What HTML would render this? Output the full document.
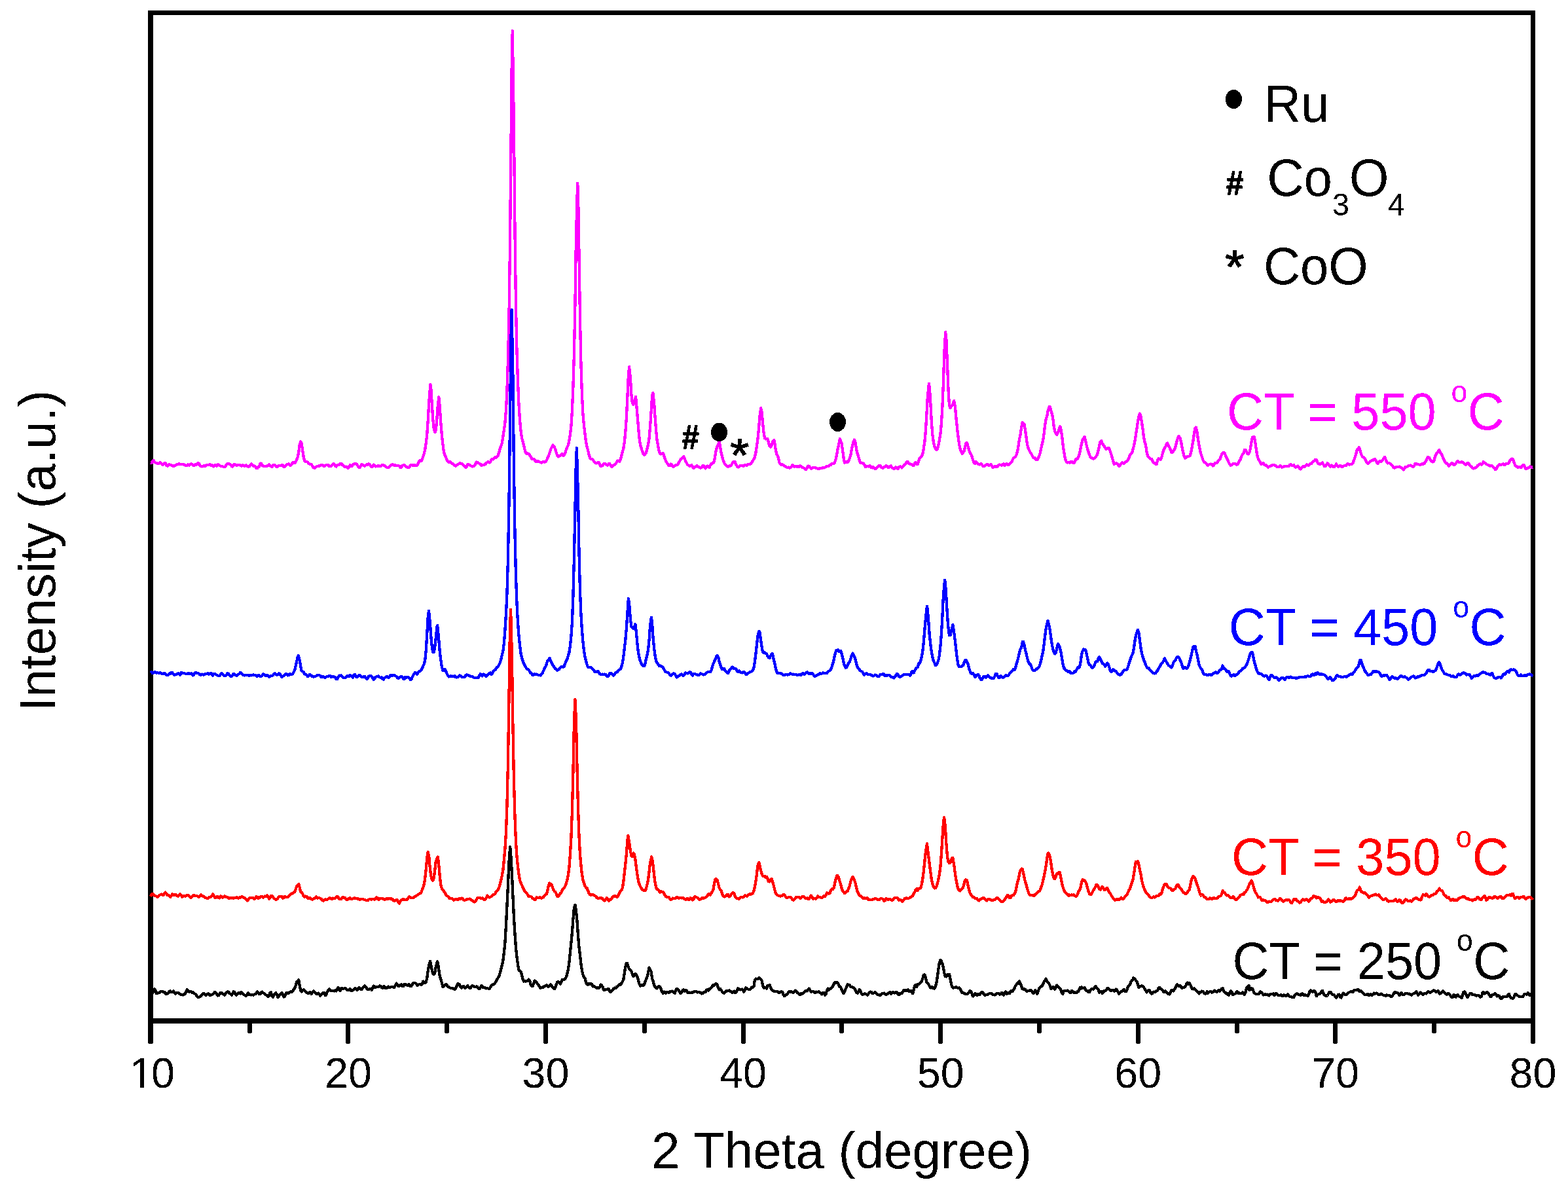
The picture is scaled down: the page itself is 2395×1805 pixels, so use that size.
<!DOCTYPE html>
<html lang="en"><head><meta charset="utf-8"><title></title>
<style>html,body{margin:0;padding:0;background:#fff;overflow:hidden}svg{display:block}text{font-family:"Liberation Sans",sans-serif}</style></head>
<body>
<svg width="2395" height="1805" viewBox="0 0 2395 1805">
<defs><filter id="bin" x="0" y="0" width="2395" height="1805" filterUnits="userSpaceOnUse" color-interpolation-filters="sRGB"><feComponentTransfer><feFuncA type="discrete" tableValues="0 1"/></feComponentTransfer></filter></defs>
<rect width="2395" height="1805" fill="#fff"/>
<g fill="#000" shape-rendering="crispEdges">
<rect x="226" y="16" width="2119" height="7"/>
<rect x="226" y="1555" width="2119" height="8"/>
<rect x="226" y="16" width="8" height="1578" rx="2.2" ry="2.2"/>
<rect x="2338" y="16" width="7" height="1578" rx="2.2" ry="2.2"/>
<rect x="378" y="1558" width="7" height="20" rx="2.2" ry="2.2"/>
<rect x="528" y="1558" width="7" height="36" rx="2.2" ry="2.2"/>
<rect x="679" y="1558" width="7" height="20" rx="2.2" ry="2.2"/>
<rect x="830" y="1558" width="7" height="36" rx="2.2" ry="2.2"/>
<rect x="981" y="1558" width="7" height="20" rx="2.2" ry="2.2"/>
<rect x="1132" y="1558" width="7" height="36" rx="2.2" ry="2.2"/>
<rect x="1282" y="1558" width="7" height="20" rx="2.2" ry="2.2"/>
<rect x="1433" y="1558" width="7" height="36" rx="2.2" ry="2.2"/>
<rect x="1584" y="1558" width="7" height="20" rx="2.2" ry="2.2"/>
<rect x="1735" y="1558" width="7" height="36" rx="2.2" ry="2.2"/>
<rect x="1886" y="1558" width="7" height="20" rx="2.2" ry="2.2"/>
<rect x="2036" y="1558" width="7" height="36" rx="2.2" ry="2.2"/>
<rect x="2187" y="1558" width="7" height="20" rx="2.2" ry="2.2"/>
</g>
<g filter="url(#bin)">
<g font-size="64.6" text-anchor="middle" fill="#000">
<text y="1661" text-anchor="start"><tspan x="198.1">1</tspan><tspan x="231">0</tspan></text>
<text x="531.9" y="1661">20</text>
<text x="833.5" y="1661">30</text>
<text x="1135.1" y="1661">40</text>
<text x="1436.7" y="1661">50</text>
<text x="1738.3" y="1661">60</text>
<text x="2039.9" y="1661">70</text>
<text x="2341.5" y="1661">80</text>
</g>
<text x="1285.6" y="1784" font-size="78.2" text-anchor="middle" fill="#000">2 Theta (degree)</text>
<text transform="translate(84.1,841) rotate(-90)" font-size="77.4" text-anchor="middle" fill="#000">Intensity (a.u.)</text>
</g>
<rect x="200" y="1653.5" width="14.1" height="10" fill="#fff" shape-rendering="crispEdges"/><rect x="220.1" y="1653.5" width="13" height="10" fill="#fff" shape-rendering="crispEdges"/>
<polyline points="230.0,706.5 231.5,706.9 233.0,704.6 234.5,703.2 236.0,705.4 237.5,706.6 239.0,707.0 240.6,708.2 242.1,708.2 243.6,706.6 245.1,706.5 246.6,708.0 248.1,709.8 249.6,709.3 251.1,707.1 252.6,707.4 254.1,710.3 255.6,711.6 257.1,709.8 258.7,709.1 260.2,710.2 261.7,710.1 263.2,711.2 264.7,712.3 266.2,711.4 267.7,710.5 269.2,710.2 270.7,709.0 272.2,708.6 273.7,708.5 275.2,708.7 276.7,708.7 278.3,708.9 279.8,709.2 281.3,709.7 282.8,710.2 284.3,711.1 285.8,711.1 287.3,709.5 288.8,710.6 290.3,709.6 291.8,708.2 293.3,709.1 294.8,710.6 296.4,710.9 297.9,709.4 299.4,709.8 300.9,709.2 302.4,707.2 303.9,707.9 305.4,710.6 306.9,712.1 308.4,712.5 309.9,711.9 311.4,711.3 312.9,711.4 314.4,711.4 316.0,709.8 317.5,709.8 319.0,709.8 320.5,709.2 322.0,710.6 323.5,710.0 325.0,711.1 326.5,712.6 328.0,710.3 329.5,710.2 331.0,711.4 332.5,709.6 334.1,709.6 335.6,711.1 337.1,711.7 338.6,711.9 340.1,712.3 341.6,713.2 343.1,713.1 344.6,711.6 346.1,709.5 347.6,708.1 349.1,707.8 350.6,709.2 352.1,709.1 353.7,711.8 355.2,712.8 356.7,709.9 358.2,708.9 359.7,710.0 361.2,710.9 362.7,709.9 364.2,709.7 365.7,709.8 367.2,710.8 368.7,711.7 370.2,710.3 371.8,710.6 373.3,711.6 374.8,711.4 376.3,710.3 377.8,711.9 379.3,712.6 380.8,712.3 382.3,710.5 383.8,708.4 385.3,709.5 386.8,711.5 388.3,711.5 389.8,712.1 391.4,714.7 392.9,715.1 394.4,713.4 395.9,712.3 397.4,708.2 398.9,707.6 400.4,710.6 401.9,711.4 403.4,712.0 404.9,712.0 406.4,711.7 407.9,711.9 409.5,710.7 411.0,709.2 412.5,710.6 414.0,712.4 415.5,712.9 417.0,710.6 418.5,710.1 420.0,710.3 421.5,711.5 423.0,713.3 424.5,712.2 426.0,710.7 427.5,711.2 429.1,711.3 430.6,709.8 432.1,710.8 433.6,713.1 435.1,712.6 436.6,710.7 438.1,709.5 439.6,708.8 441.1,708.4 442.6,710.4 444.1,710.5 445.6,708.7 447.2,706.4 448.7,706.3 450.2,707.1 451.7,705.3 453.2,701.9 454.7,698.2 456.2,690.8 457.7,679.0 459.2,674.5 460.7,677.2 462.2,687.7 463.7,697.9 465.2,703.5 466.8,705.1 468.3,704.7 469.8,705.6 471.3,707.6 472.8,708.6 474.3,709.1 475.8,709.5 477.3,711.9 478.8,714.3 480.3,714.9 481.8,714.1 483.3,712.5 484.9,712.1 486.4,711.5 487.9,711.8 489.4,710.7 490.9,709.8 492.4,710.3 493.9,711.8 495.4,712.0 496.9,711.0 498.4,709.8 499.9,709.9 501.4,710.2 502.9,712.3 504.5,712.1 506.0,711.4 507.5,710.2 509.0,708.3 510.5,708.6 512.0,711.3 513.5,712.6 515.0,710.4 516.5,709.7 518.0,709.7 519.5,708.0 521.0,707.8 522.6,709.7 524.1,710.9 525.6,711.8 527.1,713.2 528.6,712.5 530.1,713.1 531.6,714.9 533.1,713.8 534.6,710.3 536.1,710.7 537.6,711.8 539.1,709.7 540.6,708.5 542.2,708.1 543.7,708.1 545.2,709.2 546.7,711.8 548.2,714.2 549.7,714.3 551.2,711.3 552.7,708.9 554.2,710.0 555.7,711.1 557.2,711.6 558.7,710.4 560.3,709.1 561.8,709.6 563.3,708.4 564.8,709.5 566.3,711.7 567.8,713.0 569.3,712.5 570.8,709.6 572.3,711.1 573.8,712.4 575.3,711.9 576.8,711.7 578.3,710.9 579.9,712.2 581.4,712.1 582.9,710.2 584.4,710.0 585.9,710.5 587.4,711.2 588.9,712.8 590.4,713.4 591.9,714.4 593.4,714.1 594.9,712.3 596.4,710.8 598.0,709.6 599.5,709.4 601.0,710.0 602.5,710.9 604.0,710.5 605.5,711.1 607.0,711.4 608.5,710.8 610.0,711.8 611.5,714.2 613.0,713.9 614.5,711.1 616.0,710.2 617.6,710.3 619.1,711.3 620.6,713.3 622.1,713.6 623.6,714.0 625.1,713.5 626.6,710.7 628.1,709.7 629.6,710.4 631.1,711.0 632.6,710.2 634.1,710.5 635.7,711.2 637.2,710.4 638.7,707.8 640.2,704.3 641.7,702.9 643.2,704.2 644.7,702.1 646.2,697.3 647.7,693.0 649.2,686.7 650.7,677.0 652.2,664.0 653.7,642.1 655.3,614.0 657.4,587.0 658.3,592.7 659.8,616.9 661.3,640.8 662.8,654.8 664.3,660.3 665.8,656.6 667.3,640.6 668.8,619.4 670.3,606.4 671.8,621.8 673.4,646.7 674.9,664.8 676.4,678.1 677.9,690.3 679.4,694.7 680.9,697.8 682.4,701.9 683.9,704.5 685.4,705.7 686.9,705.5 688.4,705.6 689.9,707.8 691.4,708.0 693.0,709.3 694.5,711.1 696.0,711.7 697.5,710.3 699.0,709.4 700.5,708.6 702.0,707.2 703.5,707.6 705.0,708.0 706.5,708.6 708.0,710.2 709.5,711.7 711.1,713.9 712.6,712.9 714.1,709.4 715.6,709.4 717.1,709.8 718.6,711.1 720.1,711.9 721.6,712.4 723.1,712.1 724.6,711.4 726.1,708.7 727.6,705.5 729.1,706.0 730.7,707.2 732.2,707.7 733.7,708.6 735.2,710.7 736.7,710.4 738.2,710.3 739.7,709.5 741.2,709.3 742.7,706.9 744.2,706.1 745.7,705.0 747.2,706.4 748.8,706.3 750.3,702.2 751.8,701.0 753.3,701.5 754.8,699.8 756.3,698.0 757.8,698.6 759.3,697.3 760.8,695.4 762.3,690.6 763.8,684.5 765.3,681.0 766.8,676.5 768.4,666.3 769.9,656.4 771.4,645.1 772.9,626.8 774.4,596.7 775.9,551.9 777.4,487.9 778.9,382.0 780.4,230.2 781.9,80.4 782.8,47.1 784.9,193.9 786.5,353.0 788.0,468.2 789.5,536.9 791.0,582.4 792.5,617.8 794.0,641.3 795.5,657.6 797.0,668.5 798.5,673.9 800.0,680.1 801.5,686.5 803.0,691.4 804.5,693.3 806.1,692.4 807.6,693.0 809.1,695.1 810.6,697.0 812.1,700.5 813.6,701.0 815.1,700.8 816.6,702.1 818.1,705.1 819.6,704.8 821.1,704.1 822.6,704.9 824.2,705.3 825.7,706.3 827.2,706.8 828.7,705.4 830.2,705.2 831.7,705.5 833.2,705.3 834.7,703.3 836.2,699.8 837.7,696.3 839.2,692.7 840.7,687.7 842.2,684.0 844.4,679.6 845.3,680.8 846.8,682.8 848.3,686.3 849.8,691.3 851.3,696.3 852.8,697.4 854.3,696.6 855.8,695.4 857.3,694.6 858.8,693.0 860.3,695.8 861.9,694.9 863.4,691.2 864.9,686.2 866.4,682.8 867.9,679.7 869.4,672.8 870.9,663.9 872.4,650.8 873.9,627.3 875.4,591.0 876.9,541.0 878.4,466.5 879.9,365.8 882.1,279.6 883.0,291.9 884.5,388.1 886.0,487.3 887.5,558.4 889.0,604.1 890.5,633.5 892.0,649.3 893.5,662.6 895.0,674.8 896.5,682.0 898.0,687.4 899.6,694.0 901.1,699.1 902.6,701.2 904.1,701.1 905.6,702.4 907.1,704.3 908.6,706.0 910.1,707.4 911.6,707.1 913.1,706.6 914.6,705.9 916.1,709.7 917.6,712.2 919.2,711.4 920.7,710.5 922.2,708.2 923.7,707.9 925.2,708.2 926.7,710.3 928.2,710.5 929.7,708.3 931.2,708.1 932.7,710.4 934.2,713.1 935.7,711.3 937.3,709.8 938.8,709.5 940.3,708.5 941.8,706.1 943.3,703.6 944.8,703.8 946.3,705.0 947.8,701.6 949.3,696.0 950.8,690.2 952.3,684.9 953.8,675.4 955.3,660.0 956.9,637.9 958.4,605.2 959.9,573.1 961.1,560.1 962.9,577.8 964.4,602.1 965.9,615.7 967.4,617.8 968.9,612.3 971.0,605.9 971.9,614.6 973.4,632.6 975.0,652.2 976.5,668.7 978.0,679.2 979.5,684.3 981.0,689.0 982.5,692.7 984.0,694.8 985.5,693.6 987.0,691.3 988.5,685.3 990.0,679.3 991.5,669.7 993.0,652.3 994.6,629.0 996.1,604.4 997.3,600.1 999.1,615.2 1000.6,637.4 1002.1,656.9 1003.6,672.1 1005.1,680.4 1006.6,688.6 1008.1,692.6 1009.6,693.4 1011.7,693.1 1012.7,692.2 1014.2,695.8 1015.7,700.4 1017.2,704.5 1018.7,706.7 1020.2,709.0 1021.7,711.2 1023.2,711.3 1024.7,708.7 1026.2,709.9 1027.7,712.6 1029.2,712.6 1030.7,711.0 1032.3,710.3 1033.8,710.1 1035.3,709.1 1036.8,706.7 1038.3,703.8 1039.8,701.1 1041.3,700.1 1042.8,699.4 1044.3,697.1 1045.8,700.6 1047.3,704.6 1048.8,707.0 1050.4,710.0 1051.9,710.7 1053.4,712.1 1054.9,711.0 1056.4,710.2 1057.9,713.0 1059.4,715.0 1060.9,713.5 1062.4,712.7 1063.9,711.4 1065.4,711.5 1066.9,713.1 1068.4,713.6 1070.0,714.5 1071.5,714.3 1073.0,711.6 1074.5,711.1 1076.0,713.6 1077.5,715.5 1079.0,713.0 1080.5,711.5 1082.0,713.1 1083.5,713.8 1085.0,710.4 1086.5,708.2 1088.1,707.5 1089.6,707.1 1091.1,703.8 1092.6,694.3 1094.1,686.1 1095.6,681.7 1097.7,677.2 1098.6,674.8 1100.1,682.0 1101.6,691.6 1103.1,697.5 1104.6,702.8 1106.1,706.7 1107.7,709.5 1109.2,711.0 1110.7,712.3 1112.2,712.8 1113.7,711.3 1115.2,711.4 1116.7,711.2 1118.2,708.2 1119.7,705.5 1121.8,705.1 1122.7,705.2 1124.2,709.8 1125.8,711.9 1127.3,713.4 1128.8,712.9 1130.3,711.4 1131.8,710.9 1133.3,711.2 1134.8,711.4 1136.3,711.5 1137.8,710.1 1139.3,710.4 1140.8,710.6 1142.3,709.4 1143.8,708.9 1145.4,709.2 1146.9,708.3 1148.4,706.1 1149.9,703.7 1151.4,701.1 1152.9,698.2 1154.4,691.4 1155.9,681.4 1157.4,670.7 1158.9,656.1 1160.4,636.5 1162.2,623.1 1163.5,629.3 1165.0,645.3 1166.5,660.2 1168.0,669.0 1169.5,670.4 1171.0,670.3 1172.5,670.2 1174.0,676.3 1175.5,681.4 1177.0,682.7 1178.5,680.3 1180.0,674.8 1182.2,672.2 1183.1,674.8 1184.6,685.8 1186.1,693.4 1187.6,695.6 1189.1,699.9 1190.6,706.8 1192.1,708.9 1193.6,709.7 1195.1,709.4 1196.6,710.4 1198.1,711.3 1199.6,712.5 1201.2,713.3 1202.7,714.2 1204.2,713.6 1205.7,714.5 1207.2,714.2 1208.7,713.0 1210.2,710.5 1211.7,710.7 1213.2,713.1 1214.7,712.3 1216.2,712.3 1217.7,712.5 1219.2,712.4 1220.8,712.6 1222.3,711.4 1223.8,712.0 1225.3,714.0 1226.8,714.0 1228.3,715.1 1229.8,716.4 1231.3,716.8 1232.8,714.5 1234.3,711.5 1235.8,711.8 1237.3,713.8 1238.9,715.6 1240.4,715.0 1241.9,713.9 1243.4,714.1 1244.9,714.1 1246.4,714.7 1247.9,715.2 1249.4,715.8 1250.9,715.6 1252.4,715.4 1253.9,714.8 1255.4,714.6 1256.9,714.2 1258.5,714.4 1260.0,713.9 1261.5,712.8 1263.0,712.1 1264.5,712.2 1266.0,711.5 1267.5,709.7 1269.0,710.3 1270.5,708.0 1272.0,707.9 1273.5,707.9 1275.0,706.3 1276.6,701.4 1278.1,694.0 1279.6,685.9 1281.1,679.1 1282.9,670.2 1284.1,673.5 1285.6,677.3 1287.1,687.8 1288.6,699.3 1290.1,706.5 1291.6,705.6 1293.1,705.4 1294.6,706.3 1296.2,704.1 1297.7,699.8 1299.2,695.5 1300.7,687.2 1302.2,680.2 1303.7,674.6 1304.9,671.6 1306.7,676.2 1308.2,686.6 1309.7,692.7 1311.2,697.4 1312.7,703.0 1314.3,706.9 1315.8,706.8 1317.3,707.3 1318.8,707.7 1320.3,709.7 1321.8,712.8 1323.3,712.6 1324.8,712.1 1326.3,712.4 1327.8,711.3 1329.3,711.5 1330.8,714.3 1332.3,714.4 1333.9,713.1 1335.4,714.6 1336.9,716.0 1338.4,715.1 1339.9,713.5 1341.4,711.7 1342.9,711.2 1344.4,711.2 1345.9,713.6 1347.4,714.4 1348.9,714.6 1350.4,713.4 1352.0,713.0 1353.5,711.2 1355.0,712.0 1356.5,713.7 1358.0,713.8 1359.5,712.2 1361.0,711.6 1362.5,714.3 1364.0,715.4 1365.5,715.7 1367.0,715.0 1368.5,713.4 1370.0,714.7 1371.6,716.1 1373.1,713.3 1374.6,712.4 1376.1,712.9 1377.6,714.4 1379.1,712.7 1380.6,710.2 1382.1,709.2 1383.6,707.5 1385.1,705.4 1386.6,705.2 1388.1,707.3 1389.7,708.5 1391.2,709.3 1392.7,709.1 1394.2,710.5 1395.7,711.0 1397.2,707.2 1398.7,706.1 1400.2,709.1 1401.7,709.3 1403.2,703.7 1404.7,699.6 1406.2,698.6 1407.7,697.0 1409.3,693.1 1410.8,685.1 1412.3,675.0 1413.8,659.0 1415.3,634.4 1416.8,606.8 1418.9,585.9 1419.8,591.5 1421.3,614.9 1422.8,643.6 1424.3,663.3 1425.8,674.6 1427.4,681.5 1428.9,685.1 1430.4,686.7 1431.9,685.6 1433.4,679.9 1434.9,671.5 1436.4,662.8 1437.9,646.9 1439.4,621.7 1440.9,585.2 1442.4,537.8 1444.2,507.2 1445.4,518.3 1447.0,556.2 1448.5,594.7 1450.0,619.1 1451.5,622.9 1453.0,619.9 1454.5,619.4 1456.0,615.6 1457.2,612.1 1459.0,622.0 1460.5,638.7 1462.0,653.7 1463.5,666.7 1465.1,678.6 1466.6,685.3 1468.1,689.9 1469.6,692.6 1471.1,691.1 1472.6,688.6 1474.1,682.1 1475.6,676.7 1476.8,675.9 1478.6,681.8 1480.1,687.4 1481.6,691.4 1483.1,693.7 1484.7,697.6 1486.2,702.7 1487.7,707.1 1489.2,707.8 1490.7,705.1 1492.2,706.4 1493.7,708.1 1495.2,709.1 1496.7,709.4 1498.2,708.2 1499.7,708.7 1501.2,711.7 1502.8,712.3 1504.3,710.8 1505.8,710.2 1507.3,709.2 1508.8,709.2 1510.3,710.8 1511.8,710.0 1513.3,709.1 1514.8,710.9 1516.3,713.7 1517.8,713.4 1519.3,712.4 1520.8,712.4 1522.4,713.2 1523.9,712.2 1525.4,709.7 1526.9,709.6 1528.4,710.0 1529.9,710.6 1531.4,709.5 1532.9,708.3 1534.4,710.7 1535.9,709.9 1537.4,708.0 1538.9,709.7 1540.5,709.7 1542.0,708.7 1543.5,707.4 1545.0,705.8 1546.5,702.7 1548.0,699.5 1549.5,698.6 1551.0,697.5 1552.5,694.5 1554.0,689.7 1555.5,681.0 1557.0,671.0 1558.5,663.7 1560.1,653.5 1561.6,645.1 1562.8,646.6 1564.6,648.0 1566.1,657.6 1567.6,668.1 1569.1,679.1 1570.6,684.4 1572.1,687.9 1573.6,690.7 1575.1,692.4 1576.6,695.9 1578.2,698.9 1579.7,699.7 1581.2,699.4 1582.7,702.3 1584.2,702.1 1585.7,700.0 1587.2,696.4 1588.7,691.9 1590.2,684.8 1591.7,678.5 1593.2,672.1 1594.7,661.6 1596.2,648.4 1597.8,639.4 1599.3,635.4 1600.8,626.6 1602.9,621.1 1603.8,621.1 1605.3,626.8 1606.8,631.9 1608.3,639.2 1609.8,651.6 1611.3,658.9 1612.8,662.3 1614.3,663.9 1615.9,660.9 1617.4,655.8 1618.9,651.5 1619.8,652.1 1621.9,664.3 1623.4,677.8 1624.9,688.7 1626.4,697.2 1627.9,703.3 1629.4,706.2 1630.9,706.4 1632.4,705.9 1633.9,706.5 1635.5,705.4 1637.0,705.0 1638.5,706.5 1640.0,707.2 1641.5,705.4 1643.0,701.4 1644.5,701.4 1646.0,700.3 1647.5,696.8 1649.0,692.3 1650.5,684.6 1652.0,677.9 1653.6,671.7 1655.7,668.2 1656.6,667.2 1658.1,672.5 1659.6,680.0 1661.1,685.9 1662.6,690.5 1664.1,694.4 1665.6,698.7 1667.1,699.1 1668.6,699.9 1670.1,700.7 1671.6,699.6 1673.2,698.4 1674.7,696.2 1676.2,693.5 1677.7,687.5 1679.2,680.3 1680.7,674.6 1682.2,673.1 1683.7,677.0 1685.2,679.3 1686.7,681.2 1688.2,684.1 1689.7,686.0 1691.3,685.1 1692.8,683.7 1694.3,684.7 1695.8,689.6 1697.3,693.9 1698.8,698.9 1700.3,704.5 1701.8,708.7 1703.3,707.8 1704.8,707.4 1706.3,707.9 1707.8,709.9 1709.3,712.0 1710.9,710.2 1712.4,708.0 1713.9,706.5 1715.4,707.4 1716.9,707.7 1718.4,705.9 1719.9,704.8 1721.4,704.6 1722.9,702.5 1724.4,699.1 1725.9,694.8 1727.4,692.7 1729.0,691.8 1730.5,686.0 1732.0,680.9 1733.5,673.1 1735.0,663.5 1736.5,654.1 1738.0,643.4 1739.5,635.8 1741.0,631.6 1742.5,636.0 1744.0,645.1 1745.5,654.9 1747.0,668.0 1748.6,675.4 1750.1,680.2 1751.6,690.3 1753.1,696.9 1754.6,697.9 1756.1,699.6 1757.6,701.0 1759.1,701.0 1760.6,704.2 1762.1,706.6 1763.6,706.7 1765.1,708.9 1766.7,708.6 1768.2,702.7 1769.7,700.1 1771.2,701.1 1772.7,701.7 1774.2,698.7 1775.7,692.8 1777.2,687.5 1778.7,684.5 1780.2,682.1 1782.3,677.1 1783.2,676.6 1784.7,680.7 1786.3,683.1 1787.8,686.3 1789.3,691.1 1790.8,691.1 1792.3,688.3 1793.8,686.2 1795.3,683.2 1796.8,676.6 1798.3,671.1 1800.4,665.9 1801.3,668.1 1802.8,669.6 1804.4,676.9 1805.9,685.1 1807.4,691.8 1808.9,697.2 1810.4,699.6 1811.9,698.2 1813.4,697.1 1814.9,697.3 1816.4,696.6 1817.9,695.4 1819.4,689.7 1820.9,682.0 1822.4,673.3 1824.0,661.9 1825.5,653.8 1826.7,652.6 1828.5,660.1 1830.0,670.8 1831.5,680.3 1833.0,687.8 1834.5,693.3 1836.0,698.3 1837.5,702.3 1839.0,705.6 1840.5,706.2 1842.1,707.6 1843.6,709.7 1845.1,710.6 1846.6,709.5 1848.1,709.2 1849.6,708.6 1851.1,709.0 1852.6,711.5 1854.1,710.6 1855.6,707.3 1857.1,706.7 1858.6,707.2 1860.1,704.7 1861.7,702.5 1863.2,701.7 1864.7,697.5 1866.2,693.8 1867.7,691.9 1868.9,690.9 1870.7,692.3 1872.2,696.2 1873.7,699.6 1875.2,702.0 1876.7,705.9 1878.2,708.8 1879.8,710.9 1881.3,710.0 1882.8,708.5 1884.3,707.9 1885.8,707.8 1887.3,708.9 1888.8,709.5 1890.3,709.3 1891.8,706.5 1893.3,703.3 1894.8,701.3 1896.3,697.0 1897.8,694.0 1899.4,692.6 1900.9,687.2 1902.4,687.1 1903.9,689.0 1905.4,692.8 1906.9,693.4 1908.4,691.0 1909.9,685.1 1911.4,675.2 1912.9,668.0 1914.7,667.2 1915.9,667.4 1917.5,676.8 1919.0,687.6 1920.5,696.2 1922.0,701.1 1923.5,703.5 1925.0,705.9 1926.5,708.8 1928.0,708.4 1929.5,707.0 1931.0,709.1 1932.5,710.5 1934.0,710.2 1935.5,712.0 1937.1,713.7 1938.6,712.4 1940.1,711.7 1941.6,711.3 1943.1,710.4 1944.6,710.3 1946.1,710.3 1947.6,710.8 1949.1,711.6 1950.6,713.2 1952.1,713.3 1953.6,712.8 1955.2,711.2 1956.7,712.0 1958.2,713.5 1959.7,713.3 1961.2,711.9 1962.7,711.9 1964.2,712.1 1965.7,711.7 1967.2,711.8 1968.7,711.9 1970.2,709.8 1971.7,708.8 1973.2,710.5 1974.8,711.0 1976.3,710.2 1977.8,712.9 1979.3,713.6 1980.8,712.8 1982.3,711.6 1983.8,713.0 1985.3,716.0 1986.8,716.4 1988.3,714.1 1989.8,712.2 1991.3,712.4 1992.9,713.0 1994.4,710.7 1995.9,709.4 1997.4,710.4 1998.9,710.6 2000.4,708.6 2001.9,708.4 2003.4,707.7 2004.9,705.6 2006.4,704.0 2007.9,703.8 2008.8,702.2 2010.9,702.5 2012.5,706.6 2014.0,708.4 2015.5,708.6 2017.0,708.5 2018.5,707.6 2020.0,706.6 2021.5,709.4 2023.0,712.2 2024.5,712.2 2026.0,709.6 2027.5,707.4 2029.0,708.7 2030.6,711.5 2032.1,712.6 2033.6,710.7 2035.1,711.7 2036.6,713.3 2038.1,713.2 2039.6,710.7 2041.1,708.6 2042.6,711.3 2044.1,712.7 2045.6,712.2 2047.1,710.7 2048.6,711.5 2050.2,713.3 2051.7,712.2 2053.2,710.9 2054.7,710.7 2056.2,711.0 2057.7,708.5 2059.2,708.4 2060.7,709.5 2062.2,709.3 2063.7,709.2 2065.2,708.3 2066.7,706.5 2068.3,702.1 2069.8,697.9 2071.3,692.9 2072.8,687.2 2074.3,685.1 2075.8,683.1 2077.3,687.1 2078.8,692.6 2080.3,696.3 2081.8,698.2 2083.3,698.7 2084.8,699.9 2086.3,704.0 2087.9,706.6 2089.4,708.0 2090.9,706.6 2092.4,705.4 2093.9,704.1 2095.4,703.4 2096.9,703.2 2098.4,701.6 2099.9,700.8 2101.4,702.7 2102.9,705.8 2104.4,707.7 2106.0,705.9 2107.5,704.0 2109.0,705.2 2110.5,704.6 2112.0,702.2 2113.5,699.8 2115.0,698.0 2116.5,701.6 2118.0,705.3 2119.5,707.4 2121.0,707.1 2122.5,707.5 2124.0,708.7 2125.6,710.4 2127.1,711.5 2128.6,714.0 2130.1,714.6 2131.6,713.9 2133.1,712.8 2134.6,713.1 2136.1,713.3 2137.6,712.6 2139.1,713.8 2140.6,714.1 2142.1,715.8 2143.7,717.4 2145.2,715.6 2146.7,712.9 2148.2,713.3 2149.7,712.4 2151.2,711.4 2152.7,711.0 2154.2,710.6 2155.7,711.4 2157.2,712.0 2158.7,713.2 2160.2,711.4 2161.7,707.7 2163.3,707.9 2164.8,708.8 2166.3,709.1 2167.8,709.6 2169.3,710.2 2170.8,709.2 2172.3,707.9 2173.8,708.6 2175.3,708.1 2176.8,705.7 2178.3,703.5 2179.8,699.9 2180.7,698.1 2182.9,698.7 2184.4,701.8 2185.9,704.0 2187.4,704.9 2188.9,705.4 2190.4,703.4 2191.9,697.9 2193.4,693.8 2194.9,691.8 2196.4,690.3 2198.2,687.1 2199.4,690.3 2201.0,692.2 2202.5,694.7 2204.0,698.7 2205.5,701.8 2207.0,705.3 2208.5,707.4 2210.0,707.2 2211.5,709.3 2213.0,711.9 2214.5,709.7 2216.0,708.1 2217.5,707.3 2219.1,708.1 2220.6,710.2 2222.1,709.2 2223.6,707.7 2225.1,705.7 2226.6,704.1 2228.1,706.1 2229.6,705.8 2231.1,705.9 2232.6,705.2 2234.1,706.3 2235.6,706.8 2237.1,708.6 2238.7,709.7 2240.2,708.0 2241.7,707.3 2243.2,707.3 2244.7,710.1 2246.2,712.0 2247.7,712.6 2249.2,714.9 2250.7,715.4 2252.2,715.2 2253.7,714.0 2255.2,713.4 2256.8,711.2 2258.3,710.2 2259.8,709.0 2261.3,708.3 2262.8,709.5 2264.3,708.3 2265.8,705.2 2267.3,706.4 2268.8,707.4 2270.3,708.6 2271.8,709.8 2273.3,710.0 2274.8,711.1 2276.4,711.6 2277.9,711.0 2279.4,711.6 2280.9,713.3 2282.4,714.6 2283.9,717.2 2285.4,716.5 2286.9,713.1 2288.4,711.2 2289.9,709.3 2291.4,709.5 2292.9,709.8 2294.5,708.9 2296.0,708.2 2297.5,710.0 2299.0,709.9 2300.5,708.0 2302.0,707.7 2303.5,708.1 2305.0,706.3 2306.5,702.8 2308.0,702.2 2309.5,700.5 2311.0,701.7 2312.5,705.8 2314.1,710.2 2315.6,711.7 2317.1,712.9 2318.6,714.1 2320.1,713.1 2321.6,712.9 2323.1,714.2 2324.6,712.5 2326.1,710.0 2327.6,710.0 2329.1,713.4 2330.6,716.2 2332.2,715.5 2333.7,714.6 2335.2,714.2 2336.7,712.3 2338.2,712.9 2339.7,713.8 2341.2,713.5" fill="none" stroke="#ff00ff" stroke-width="4.3" stroke-linejoin="round" stroke-linecap="butt" shape-rendering="crispEdges"/>
<polyline points="230.0,1027.5 231.5,1026.2 233.0,1028.0 234.5,1027.5 236.0,1026.4 237.5,1026.6 239.0,1027.7 240.6,1027.2 242.1,1027.8 243.6,1027.5 245.1,1027.6 246.6,1028.1 248.1,1029.2 249.6,1028.9 251.1,1028.0 252.6,1029.6 254.1,1030.6 255.6,1031.2 257.1,1030.3 258.7,1028.5 260.2,1029.2 261.7,1027.1 263.2,1027.1 264.7,1029.3 266.2,1030.7 267.7,1030.5 269.2,1030.0 270.7,1029.2 272.2,1028.0 273.7,1029.7 275.2,1030.8 276.7,1027.1 278.3,1027.3 279.8,1028.2 281.3,1027.8 282.8,1028.6 284.3,1029.1 285.8,1029.0 287.3,1028.5 288.8,1028.3 290.3,1029.2 291.8,1028.4 293.3,1029.0 294.8,1031.3 296.4,1029.6 297.9,1027.6 299.4,1026.9 300.9,1028.3 302.4,1028.0 303.9,1028.6 305.4,1030.5 306.9,1030.5 308.4,1029.5 309.9,1030.4 311.4,1030.5 312.9,1029.4 314.4,1028.7 316.0,1029.0 317.5,1028.3 319.0,1029.5 320.5,1029.3 322.0,1027.8 323.5,1029.2 325.0,1031.4 326.5,1028.8 328.0,1028.9 329.5,1029.9 331.0,1030.8 332.5,1031.5 334.1,1032.1 335.6,1031.7 337.1,1029.8 338.6,1028.2 340.1,1029.3 341.6,1031.1 343.1,1032.0 344.6,1032.0 346.1,1030.0 347.6,1028.3 349.1,1029.1 350.6,1031.0 352.1,1032.5 353.7,1032.8 355.2,1031.3 356.7,1029.0 358.2,1029.5 359.7,1031.1 361.2,1031.7 362.7,1031.2 364.2,1029.6 365.7,1028.9 367.2,1026.8 368.7,1028.3 370.2,1030.1 371.8,1030.7 373.3,1031.5 374.8,1030.9 376.3,1031.0 377.8,1031.2 379.3,1030.8 380.8,1031.9 382.3,1031.1 383.8,1031.4 385.3,1031.2 386.8,1030.5 388.3,1030.9 389.8,1031.1 391.4,1031.7 392.9,1032.9 394.4,1030.9 395.9,1031.1 397.4,1032.8 398.9,1032.9 400.4,1031.8 401.9,1029.4 403.4,1029.8 404.9,1031.5 406.4,1032.2 407.9,1030.7 409.5,1031.7 411.0,1033.7 412.5,1033.0 414.0,1032.0 415.5,1031.9 417.0,1031.4 418.5,1028.7 420.0,1028.5 421.5,1029.7 423.0,1030.6 424.5,1029.7 426.0,1028.1 427.5,1029.4 429.1,1031.4 430.6,1034.1 432.1,1032.8 433.6,1031.8 435.1,1030.3 436.6,1029.3 438.1,1029.5 439.6,1031.4 441.1,1031.3 442.6,1028.8 444.1,1029.4 445.6,1030.2 447.2,1029.1 448.7,1026.1 450.2,1023.1 451.7,1016.6 453.2,1009.9 454.7,1003.0 455.9,1000.9 457.7,1008.6 459.2,1017.4 460.7,1024.5 462.2,1025.3 463.7,1026.2 465.2,1029.4 466.8,1030.0 468.3,1030.4 469.8,1032.9 471.3,1032.7 472.8,1029.9 474.3,1030.7 475.8,1032.6 477.3,1032.5 478.8,1033.8 480.3,1033.2 481.8,1032.8 483.3,1032.1 484.9,1030.8 486.4,1031.0 487.9,1031.1 489.4,1032.2 490.9,1034.2 492.4,1034.1 493.9,1033.1 495.4,1034.0 496.9,1035.0 498.4,1033.5 499.9,1032.8 501.4,1033.2 502.9,1031.9 504.5,1032.1 506.0,1034.1 507.5,1032.7 509.0,1032.9 510.5,1033.6 512.0,1034.3 513.5,1036.8 515.0,1037.2 516.5,1034.2 518.0,1031.6 519.5,1031.8 521.0,1031.4 522.6,1033.5 524.1,1035.0 525.6,1035.2 527.1,1035.4 528.6,1033.9 530.1,1032.1 531.6,1032.8 533.1,1033.2 534.6,1031.1 536.1,1031.7 537.6,1032.9 539.1,1034.5 540.6,1031.0 542.2,1029.8 543.7,1033.4 545.2,1034.2 546.7,1032.4 548.2,1031.4 549.7,1030.8 551.2,1032.3 552.7,1034.0 554.2,1033.8 555.7,1032.8 557.2,1033.0 558.7,1035.5 560.3,1037.2 561.8,1035.7 563.3,1032.6 564.8,1032.4 566.3,1032.2 567.8,1033.0 569.3,1035.7 570.8,1037.9 572.3,1035.9 573.8,1033.8 575.3,1033.3 576.8,1033.3 578.3,1032.3 579.9,1034.3 581.4,1034.9 582.9,1034.3 584.4,1037.0 585.9,1037.7 587.4,1034.9 588.9,1034.3 590.4,1033.3 591.9,1033.2 593.4,1034.7 594.9,1033.9 596.4,1031.3 598.0,1030.9 599.5,1032.1 601.0,1031.0 602.5,1030.9 604.0,1032.2 605.5,1033.2 607.0,1035.2 608.5,1036.1 610.0,1034.1 611.5,1034.2 613.0,1032.7 614.5,1033.7 616.0,1036.5 617.6,1036.7 619.1,1033.8 620.6,1034.8 622.1,1034.3 623.6,1033.9 625.1,1035.4 626.6,1037.7 628.1,1037.8 629.6,1034.4 631.1,1031.1 632.6,1028.8 634.1,1026.7 635.7,1027.8 637.2,1029.6 638.7,1026.8 640.2,1025.3 641.7,1025.1 643.2,1023.6 644.7,1020.8 646.2,1017.4 647.7,1014.0 649.2,1008.3 650.7,993.6 652.2,969.3 653.7,942.0 655.0,932.6 656.8,950.3 658.3,971.8 659.8,987.6 661.3,996.3 662.8,995.5 664.3,987.7 665.8,974.0 667.3,957.7 668.2,955.1 670.3,977.4 671.8,995.9 673.4,1008.5 674.9,1018.3 676.4,1023.9 677.9,1023.7 679.4,1022.0 680.9,1024.5 682.4,1028.4 683.9,1031.2 685.4,1033.4 686.9,1033.0 688.4,1032.3 689.9,1032.8 691.4,1032.6 693.0,1032.8 694.5,1032.2 696.0,1034.3 697.5,1034.4 699.0,1034.3 700.5,1032.6 702.0,1031.1 703.5,1032.3 705.0,1033.5 706.5,1034.0 708.0,1034.2 709.5,1033.8 711.1,1031.9 712.6,1030.4 714.1,1030.8 715.6,1031.0 717.1,1032.1 718.6,1032.8 720.1,1033.0 721.6,1033.1 723.1,1034.3 724.6,1035.0 726.1,1034.9 727.6,1034.7 729.1,1035.0 730.7,1034.6 732.2,1031.9 733.7,1029.0 735.2,1030.7 736.7,1032.3 738.2,1029.6 739.7,1029.9 741.2,1031.2 742.7,1032.8 744.2,1031.7 745.7,1029.7 747.2,1028.1 748.8,1027.5 750.3,1030.2 751.8,1028.8 753.3,1024.9 754.8,1023.7 756.3,1023.3 757.8,1020.5 759.3,1018.6 760.8,1018.0 762.3,1015.0 763.8,1011.8 765.3,1007.1 766.8,1000.1 768.4,994.0 769.9,981.9 771.4,962.2 772.9,938.5 774.4,907.1 775.9,855.6 777.4,772.6 778.9,652.7 780.4,520.4 781.6,473.1 783.4,574.0 784.9,712.7 786.5,816.0 788.0,879.6 789.5,922.0 791.0,950.6 792.5,970.5 794.0,985.4 795.5,997.6 797.0,1004.6 798.5,1008.7 800.0,1013.6 801.5,1015.7 803.0,1018.7 804.5,1021.3 806.1,1021.9 807.6,1022.9 809.1,1025.8 810.6,1027.7 812.1,1028.8 813.6,1031.0 815.1,1030.4 816.6,1029.1 818.1,1029.7 819.6,1029.6 821.1,1030.3 822.6,1030.9 824.2,1031.3 825.7,1031.4 827.2,1029.5 828.7,1027.5 830.2,1024.1 831.7,1020.4 833.2,1018.4 834.7,1014.8 836.2,1008.9 837.7,1007.5 839.8,1005.1 840.7,1008.5 842.2,1011.1 843.8,1014.8 845.3,1017.0 846.8,1019.1 848.3,1021.4 849.8,1022.4 851.3,1023.7 852.8,1022.3 854.3,1021.9 855.8,1019.4 857.3,1017.9 858.8,1017.8 860.3,1018.6 861.9,1017.2 863.4,1012.6 864.9,1009.0 866.4,1006.3 867.9,1001.1 869.4,996.2 870.9,986.8 872.4,971.4 873.9,950.5 875.4,910.6 876.9,852.8 878.4,778.8 879.9,703.1 880.9,684.1 883.0,759.5 884.5,843.4 886.0,903.7 887.5,939.5 889.0,962.6 890.5,980.7 892.0,994.4 893.5,1002.9 895.0,1009.1 896.5,1014.6 898.0,1018.7 899.6,1019.2 901.1,1019.1 902.6,1019.1 904.1,1021.0 905.6,1021.7 907.1,1023.7 908.6,1025.9 910.1,1026.4 911.6,1025.9 913.1,1024.8 914.6,1026.9 916.1,1029.1 917.6,1029.8 919.2,1029.9 920.7,1029.5 922.2,1030.1 923.7,1029.5 925.2,1030.1 926.7,1032.3 928.2,1033.3 929.7,1031.4 931.2,1028.5 932.7,1028.0 934.2,1028.5 935.7,1029.9 937.3,1031.7 938.8,1030.1 940.3,1026.8 941.8,1026.6 943.3,1025.8 944.8,1023.5 946.3,1022.6 947.8,1022.0 949.3,1018.0 950.8,1012.3 952.3,1002.9 953.8,989.8 955.3,977.7 956.9,959.3 958.4,935.7 959.9,914.1 961.4,925.1 962.9,945.0 964.4,957.3 965.9,958.8 967.4,959.8 968.9,957.0 970.4,953.4 971.9,965.8 973.4,982.4 975.0,996.4 976.5,1004.3 978.0,1009.4 979.5,1013.2 981.0,1015.4 982.5,1017.3 984.0,1017.3 985.5,1013.0 987.0,1006.1 988.5,999.9 990.0,992.6 991.5,978.1 993.0,956.1 994.9,942.9 996.1,951.5 997.6,974.6 999.1,989.8 1000.6,1001.2 1002.1,1009.6 1003.6,1012.1 1005.1,1014.1 1006.6,1016.7 1008.1,1016.4 1009.6,1017.1 1011.1,1018.1 1012.7,1019.5 1014.2,1021.7 1015.7,1024.9 1017.2,1026.2 1018.7,1026.6 1020.2,1026.9 1021.7,1028.1 1023.2,1030.6 1024.7,1031.6 1026.2,1030.6 1027.7,1028.7 1029.2,1028.6 1030.7,1028.7 1032.3,1032.3 1033.8,1034.4 1035.3,1033.6 1036.8,1032.1 1038.3,1031.1 1039.8,1029.8 1041.3,1029.5 1042.8,1031.5 1044.3,1031.7 1045.8,1029.3 1047.3,1027.5 1048.8,1028.1 1050.4,1028.5 1051.9,1027.5 1053.4,1026.0 1054.9,1026.8 1056.4,1030.0 1057.9,1031.6 1059.4,1029.1 1060.9,1029.0 1062.4,1029.5 1063.9,1030.1 1065.4,1030.6 1066.9,1031.2 1068.4,1029.8 1070.0,1028.5 1071.5,1029.1 1073.0,1029.8 1074.5,1030.4 1076.0,1030.2 1077.5,1029.3 1079.0,1027.8 1080.5,1026.5 1082.0,1025.7 1083.5,1025.8 1085.0,1026.1 1086.5,1023.6 1088.1,1017.9 1089.6,1013.3 1091.1,1010.2 1092.6,1006.9 1094.4,1002.2 1095.6,1001.1 1097.1,1003.5 1098.6,1010.1 1100.1,1014.8 1101.6,1019.4 1103.1,1022.2 1104.6,1020.7 1106.1,1020.8 1107.7,1024.2 1109.2,1025.8 1110.7,1027.7 1112.2,1028.1 1113.7,1024.6 1115.2,1022.0 1116.7,1020.5 1118.2,1018.6 1119.7,1019.3 1120.6,1020.9 1122.7,1020.7 1124.2,1021.6 1125.8,1025.2 1127.3,1026.0 1128.8,1024.4 1130.3,1025.9 1131.8,1027.1 1133.3,1027.4 1134.8,1026.4 1136.3,1025.8 1137.8,1026.9 1139.3,1030.0 1140.8,1029.5 1142.3,1028.3 1143.8,1027.3 1145.4,1026.2 1146.9,1025.9 1148.4,1025.1 1149.9,1024.0 1151.4,1019.2 1152.9,1011.2 1154.4,998.4 1155.9,985.2 1157.4,971.1 1159.2,964.1 1160.4,965.0 1161.9,976.4 1163.5,987.3 1165.0,995.4 1166.5,997.2 1168.0,996.4 1169.5,998.1 1171.0,998.6 1172.5,1001.8 1174.0,1004.2 1175.5,1005.2 1177.0,1001.2 1179.1,998.1 1180.0,998.2 1181.5,1005.9 1183.1,1012.1 1184.6,1019.0 1186.1,1025.6 1187.6,1028.1 1189.1,1027.7 1190.6,1027.8 1192.1,1028.3 1193.6,1028.5 1195.1,1029.6 1196.6,1031.1 1198.1,1030.8 1199.6,1030.1 1201.2,1030.1 1202.7,1030.6 1204.2,1029.9 1205.7,1029.6 1207.2,1028.4 1208.7,1029.0 1210.2,1029.8 1211.7,1029.5 1213.2,1030.1 1214.7,1030.1 1216.2,1029.9 1217.7,1030.8 1219.2,1030.6 1220.8,1029.9 1222.3,1030.6 1223.8,1030.7 1225.3,1028.6 1226.8,1028.4 1228.3,1029.9 1229.8,1028.8 1231.3,1027.3 1232.8,1026.4 1234.3,1028.3 1235.8,1029.2 1237.3,1028.3 1238.9,1028.8 1240.4,1028.2 1241.9,1029.4 1243.4,1032.3 1244.9,1032.9 1246.4,1031.6 1247.9,1031.3 1249.4,1030.2 1250.9,1029.7 1252.4,1028.2 1253.9,1029.0 1255.4,1028.5 1256.9,1027.5 1258.5,1027.8 1260.0,1028.0 1261.5,1028.3 1263.0,1028.2 1264.5,1026.1 1266.0,1024.8 1267.5,1024.1 1269.0,1022.1 1270.5,1018.6 1272.0,1013.7 1273.5,1008.4 1275.0,1000.6 1277.2,993.1 1278.1,993.3 1279.6,992.5 1281.1,994.5 1282.6,995.0 1284.1,993.7 1285.6,998.0 1287.1,1004.2 1288.6,1011.8 1290.1,1016.7 1291.6,1019.8 1293.1,1019.3 1294.6,1015.8 1296.2,1012.3 1297.7,1010.6 1299.2,1006.6 1300.7,1001.0 1302.5,997.6 1303.7,1000.1 1305.2,1002.8 1306.7,1007.5 1308.2,1013.9 1309.7,1018.8 1311.2,1020.4 1312.7,1022.7 1314.3,1024.5 1315.8,1024.9 1317.3,1026.1 1318.8,1029.0 1320.3,1030.5 1321.8,1029.1 1323.3,1028.1 1324.8,1029.3 1326.3,1030.0 1327.8,1030.1 1329.3,1029.9 1330.8,1031.1 1332.3,1031.5 1333.9,1032.4 1335.4,1031.5 1336.9,1030.6 1338.4,1031.2 1339.9,1032.5 1341.4,1033.2 1342.9,1032.6 1344.4,1030.2 1345.9,1029.9 1347.4,1029.8 1348.9,1028.7 1350.4,1030.4 1352.0,1032.0 1353.5,1031.4 1355.0,1031.4 1356.5,1031.3 1358.0,1031.2 1359.5,1031.4 1361.0,1033.6 1362.5,1034.3 1364.0,1034.5 1365.5,1035.4 1367.0,1033.9 1368.5,1031.2 1370.0,1028.7 1371.6,1029.9 1373.1,1033.2 1374.6,1034.3 1376.1,1032.8 1377.6,1032.3 1379.1,1031.0 1380.6,1030.3 1382.1,1030.0 1383.6,1029.9 1385.1,1030.0 1386.6,1030.0 1388.1,1029.8 1389.7,1031.7 1391.2,1029.9 1392.7,1025.5 1394.2,1025.5 1395.7,1027.5 1397.2,1024.2 1398.7,1021.4 1400.2,1019.6 1401.7,1018.9 1403.2,1013.1 1404.7,1012.9 1406.2,1009.7 1407.7,1003.3 1409.3,994.5 1410.8,980.5 1412.3,962.1 1413.8,945.0 1415.9,925.9 1416.8,931.4 1418.3,949.6 1419.8,970.3 1421.3,984.2 1422.8,995.0 1424.3,1002.8 1425.8,1009.1 1427.4,1012.3 1428.9,1016.0 1430.4,1015.7 1431.9,1012.0 1433.4,1008.1 1434.9,1000.6 1436.4,986.9 1437.9,968.2 1439.4,941.6 1440.9,909.7 1443.0,885.9 1443.9,889.5 1445.4,912.4 1447.0,940.0 1448.5,958.8 1450.0,970.2 1451.5,970.2 1453.0,962.9 1454.5,958.4 1455.4,954.2 1457.5,968.0 1459.0,979.7 1460.5,993.4 1462.0,1006.0 1463.5,1015.1 1465.1,1018.2 1466.6,1017.8 1468.1,1017.9 1469.6,1017.0 1471.1,1016.0 1472.6,1011.7 1474.1,1008.3 1475.6,1008.1 1477.1,1011.2 1478.6,1014.0 1480.1,1020.7 1481.6,1024.6 1483.1,1028.2 1484.7,1028.6 1486.2,1027.9 1487.7,1030.4 1489.2,1034.0 1490.7,1032.9 1492.2,1030.8 1493.7,1029.7 1495.2,1031.3 1496.7,1035.3 1498.2,1037.7 1499.7,1037.7 1501.2,1035.4 1502.8,1032.8 1504.3,1032.8 1505.8,1034.7 1507.3,1033.1 1508.8,1031.4 1510.3,1032.5 1511.8,1034.1 1513.3,1035.4 1514.8,1035.3 1516.3,1036.3 1517.8,1035.8 1519.3,1032.9 1520.8,1029.0 1522.4,1028.9 1523.9,1032.4 1525.4,1035.2 1526.9,1035.0 1528.4,1032.2 1529.9,1033.2 1531.4,1034.5 1532.9,1034.3 1534.4,1032.9 1535.9,1031.6 1537.4,1031.4 1538.9,1032.0 1540.5,1031.6 1542.0,1028.7 1543.5,1026.8 1545.0,1025.8 1546.5,1024.1 1548.0,1021.7 1549.5,1022.9 1551.0,1019.9 1552.5,1014.2 1554.0,1009.6 1555.5,1003.6 1557.0,996.5 1558.5,991.4 1560.1,989.7 1561.9,979.7 1563.1,980.0 1564.6,985.3 1566.1,993.0 1567.6,998.6 1569.1,1005.1 1570.6,1010.5 1572.1,1013.5 1573.6,1014.3 1575.1,1017.2 1576.6,1021.7 1578.2,1023.8 1579.7,1024.2 1581.2,1023.2 1582.7,1021.5 1584.2,1021.5 1585.7,1020.1 1587.2,1018.3 1588.7,1013.8 1590.2,1008.4 1591.7,1001.5 1593.2,994.7 1594.7,983.8 1596.2,970.9 1597.8,958.9 1599.3,952.8 1600.5,947.7 1602.3,955.4 1603.8,962.6 1605.3,974.1 1606.8,984.0 1608.3,991.4 1609.8,996.6 1611.3,998.3 1612.8,996.9 1614.3,989.7 1615.9,983.3 1617.4,985.1 1618.9,989.2 1620.4,995.9 1621.9,1003.8 1623.4,1013.7 1624.9,1019.9 1626.4,1021.4 1627.9,1023.1 1629.4,1024.3 1630.9,1025.7 1632.4,1025.6 1633.9,1024.9 1635.5,1027.7 1637.0,1027.9 1638.5,1028.2 1640.0,1027.1 1641.5,1025.2 1643.0,1025.5 1644.5,1022.5 1646.0,1019.5 1647.5,1019.7 1649.0,1018.9 1650.5,1011.4 1652.0,1000.0 1653.6,994.3 1655.1,991.2 1656.0,991.7 1658.1,992.4 1659.6,998.2 1661.1,1005.3 1662.6,1012.9 1664.1,1015.2 1665.6,1015.6 1667.1,1018.5 1668.6,1020.2 1670.1,1018.4 1671.6,1016.1 1673.2,1011.6 1674.7,1010.2 1676.2,1010.2 1677.7,1004.9 1678.9,1003.4 1680.7,1006.2 1682.2,1009.4 1683.7,1012.9 1685.2,1013.8 1686.7,1014.6 1688.2,1017.6 1689.7,1015.4 1691.3,1012.6 1692.8,1014.1 1694.3,1018.8 1695.8,1023.9 1697.3,1025.8 1698.8,1024.6 1700.3,1022.5 1701.8,1023.0 1703.3,1024.8 1704.8,1025.3 1706.3,1027.7 1707.8,1029.8 1709.3,1030.2 1710.9,1030.8 1712.4,1029.9 1713.9,1027.7 1715.4,1025.2 1716.9,1023.4 1718.4,1023.1 1719.9,1023.3 1721.4,1022.7 1722.9,1018.5 1724.4,1013.4 1725.9,1008.8 1727.4,1004.1 1729.0,1000.4 1730.5,997.5 1732.0,989.2 1733.5,978.5 1735.0,969.8 1737.1,964.2 1738.0,961.7 1739.5,967.0 1741.0,978.2 1742.5,989.5 1744.0,997.7 1745.5,1002.9 1747.0,1007.9 1748.6,1011.4 1750.1,1015.6 1751.6,1018.7 1753.1,1020.2 1754.6,1020.3 1756.1,1022.6 1757.6,1024.1 1759.1,1025.2 1760.6,1027.3 1762.1,1028.0 1763.6,1028.5 1765.1,1028.0 1766.7,1025.3 1768.2,1023.8 1769.7,1020.5 1771.2,1018.6 1772.7,1015.6 1774.2,1013.1 1775.7,1011.7 1777.2,1009.5 1779.0,1005.1 1780.2,1008.6 1781.7,1010.8 1783.2,1013.2 1784.7,1016.0 1786.3,1017.0 1787.8,1017.8 1789.3,1019.4 1790.8,1016.8 1792.3,1012.0 1793.8,1009.4 1795.3,1008.3 1796.8,1004.9 1798.9,1002.7 1799.8,1002.9 1801.3,1005.1 1802.8,1008.3 1804.4,1012.1 1805.9,1017.7 1807.4,1020.7 1808.9,1019.3 1810.4,1019.2 1811.9,1020.8 1813.4,1020.5 1814.9,1017.7 1816.4,1012.8 1817.9,1007.8 1819.4,1001.6 1820.9,994.7 1822.4,987.7 1824.3,986.7 1825.5,987.1 1827.0,994.6 1828.5,999.7 1830.0,1007.6 1831.5,1015.1 1833.0,1018.6 1834.5,1021.1 1836.0,1022.9 1837.5,1027.0 1839.0,1030.0 1840.5,1030.3 1842.1,1029.9 1843.6,1031.3 1845.1,1031.1 1846.6,1029.9 1848.1,1029.7 1849.6,1031.0 1851.1,1030.8 1852.6,1028.8 1854.1,1027.8 1855.6,1027.3 1857.1,1026.4 1858.6,1027.8 1860.1,1027.8 1861.7,1025.5 1863.2,1023.2 1864.7,1023.3 1866.2,1020.7 1867.4,1016.4 1869.2,1020.5 1870.7,1021.5 1872.2,1022.7 1873.7,1025.6 1875.2,1025.5 1876.7,1025.3 1878.2,1028.7 1879.8,1032.2 1881.3,1032.5 1882.8,1031.0 1884.3,1030.2 1885.8,1031.9 1887.3,1031.3 1888.8,1029.7 1890.3,1029.4 1891.8,1027.3 1893.3,1025.3 1894.8,1024.9 1896.3,1023.2 1897.8,1021.2 1899.4,1020.2 1900.9,1019.5 1902.4,1017.8 1903.9,1015.2 1905.4,1011.8 1906.9,1007.6 1908.4,1002.1 1909.9,997.7 1911.7,995.9 1912.9,996.1 1914.4,1003.5 1915.9,1010.9 1917.5,1016.1 1919.0,1021.4 1920.5,1025.5 1922.0,1028.1 1923.5,1028.7 1925.0,1028.6 1926.5,1029.1 1928.0,1030.4 1929.5,1031.9 1931.0,1032.7 1932.5,1031.7 1934.0,1031.6 1935.5,1033.4 1937.1,1037.0 1938.6,1037.8 1940.1,1033.5 1941.6,1030.8 1943.1,1031.2 1944.6,1033.4 1946.1,1034.7 1947.6,1034.8 1949.1,1034.4 1950.6,1035.1 1952.1,1037.1 1953.6,1038.9 1955.2,1037.0 1956.7,1035.6 1958.2,1034.8 1959.7,1035.2 1961.2,1036.9 1962.7,1038.0 1964.2,1035.1 1965.7,1033.7 1967.2,1033.8 1968.7,1034.9 1970.2,1034.5 1971.7,1033.6 1973.2,1034.6 1974.8,1035.2 1976.3,1034.8 1977.8,1034.8 1979.3,1035.7 1980.8,1035.5 1982.3,1035.1 1983.8,1034.6 1985.3,1033.9 1986.8,1034.0 1988.3,1034.0 1989.8,1033.9 1991.3,1034.2 1992.9,1033.3 1994.4,1033.8 1995.9,1032.9 1997.4,1032.1 1998.9,1032.6 2000.4,1032.9 2001.9,1032.7 2003.4,1030.3 2004.9,1029.2 2006.4,1030.7 2007.9,1031.0 2009.4,1028.5 2010.9,1029.8 2012.5,1027.2 2014.0,1029.0 2015.5,1029.7 2017.0,1029.5 2018.5,1029.2 2020.0,1029.9 2021.5,1030.3 2023.0,1030.6 2024.5,1031.7 2026.0,1033.4 2027.5,1036.5 2029.0,1036.6 2030.6,1034.6 2032.1,1034.5 2033.6,1036.9 2035.1,1039.3 2036.6,1038.6 2038.1,1037.2 2039.6,1035.9 2041.1,1032.0 2042.6,1031.1 2044.1,1033.0 2045.6,1033.0 2047.1,1033.4 2048.6,1033.7 2050.2,1034.1 2051.7,1034.0 2053.2,1033.1 2054.7,1033.1 2056.2,1034.0 2057.7,1033.1 2059.2,1031.8 2060.7,1030.8 2062.2,1029.6 2063.7,1029.6 2065.2,1030.3 2066.7,1027.6 2068.3,1026.1 2069.8,1024.1 2071.3,1021.2 2072.8,1019.6 2074.3,1018.5 2075.8,1013.9 2077.0,1008.4 2078.8,1008.0 2080.3,1013.4 2081.8,1017.7 2083.3,1021.0 2084.8,1024.9 2086.3,1026.3 2087.9,1028.1 2089.4,1031.2 2090.9,1031.0 2092.4,1029.8 2093.9,1030.1 2095.4,1028.3 2096.9,1025.8 2098.4,1024.8 2099.9,1026.2 2101.4,1025.2 2102.9,1025.4 2104.4,1026.1 2106.0,1026.2 2107.5,1027.8 2109.0,1031.3 2110.5,1033.1 2112.0,1032.3 2113.5,1031.4 2115.0,1031.5 2116.5,1030.8 2118.0,1030.9 2119.5,1032.7 2121.0,1035.6 2122.5,1037.7 2124.0,1036.2 2125.6,1033.7 2127.1,1033.2 2128.6,1035.1 2130.1,1035.8 2131.6,1035.3 2133.1,1036.4 2134.6,1036.6 2136.1,1035.2 2137.6,1034.0 2139.1,1032.5 2140.6,1032.0 2142.1,1033.3 2143.7,1033.9 2145.2,1033.3 2146.7,1033.8 2148.2,1035.1 2149.7,1036.0 2151.2,1037.7 2152.7,1036.9 2154.2,1035.7 2155.7,1034.1 2157.2,1033.0 2158.7,1032.4 2160.2,1033.0 2161.7,1035.4 2163.3,1035.3 2164.8,1033.6 2166.3,1033.6 2167.8,1033.3 2169.3,1032.3 2170.8,1031.8 2172.3,1030.9 2173.8,1031.2 2175.3,1031.1 2176.8,1029.6 2178.3,1028.5 2179.8,1025.1 2181.4,1023.4 2182.9,1022.9 2184.4,1024.6 2185.9,1024.9 2187.4,1025.2 2188.9,1026.3 2190.4,1025.1 2191.9,1024.4 2193.4,1022.4 2194.9,1018.4 2196.4,1013.7 2197.9,1011.6 2199.4,1013.5 2201.0,1018.9 2202.5,1022.5 2204.0,1024.7 2205.5,1027.5 2207.0,1029.4 2208.5,1029.2 2210.0,1030.0 2211.5,1030.5 2213.0,1031.0 2214.5,1031.2 2216.0,1032.5 2217.5,1033.2 2219.1,1032.1 2220.6,1032.8 2222.1,1034.3 2223.6,1034.3 2225.1,1033.2 2226.6,1030.2 2228.1,1029.3 2229.6,1030.4 2231.1,1030.4 2232.6,1028.7 2234.1,1027.9 2235.6,1027.1 2237.1,1028.3 2238.7,1028.6 2240.2,1030.5 2241.7,1030.1 2243.2,1029.8 2244.7,1030.4 2246.2,1032.9 2247.7,1035.7 2249.2,1034.6 2250.7,1032.6 2252.2,1032.3 2253.7,1032.4 2255.2,1031.1 2256.8,1031.8 2258.3,1031.6 2259.8,1029.8 2261.3,1028.6 2262.8,1027.6 2264.3,1027.0 2265.8,1026.1 2267.3,1027.2 2268.8,1027.3 2270.3,1028.6 2271.8,1029.3 2273.3,1029.0 2274.8,1030.0 2276.4,1031.2 2277.9,1028.3 2279.4,1028.2 2280.9,1032.5 2282.4,1034.9 2283.9,1035.6 2285.4,1035.9 2286.9,1035.1 2288.4,1034.4 2289.9,1033.7 2291.4,1034.5 2292.9,1035.4 2294.5,1033.2 2296.0,1030.0 2297.5,1029.2 2299.0,1029.6 2300.5,1027.2 2302.0,1025.4 2303.5,1025.6 2305.0,1026.4 2306.5,1023.3 2308.0,1022.2 2309.5,1023.3 2311.0,1023.3 2312.5,1022.4 2314.1,1023.7 2315.6,1024.9 2317.1,1028.7 2318.6,1031.3 2320.1,1032.2 2321.6,1032.3 2323.1,1030.3 2324.6,1032.1 2326.1,1032.2 2327.6,1031.6 2329.1,1031.1 2330.6,1031.7 2332.2,1031.5 2333.7,1030.0 2335.2,1029.7 2336.7,1029.5 2338.2,1030.1 2339.7,1031.6 2341.2,1032.5" fill="none" stroke="#0000ff" stroke-width="4.3" stroke-linejoin="round" stroke-linecap="butt" shape-rendering="crispEdges"/>
<polyline points="230.0,1369.0 231.5,1365.4 233.0,1365.0 234.5,1366.3 236.0,1367.4 237.5,1368.0 239.0,1368.7 240.6,1369.9 242.1,1368.4 243.6,1367.2 245.1,1366.1 246.6,1365.6 248.1,1366.8 249.6,1367.3 251.1,1364.6 252.6,1362.7 254.1,1364.7 255.6,1366.9 257.1,1366.6 258.7,1368.1 260.2,1369.9 261.7,1368.1 263.2,1365.4 264.7,1366.4 266.2,1366.7 267.7,1366.3 269.2,1366.2 270.7,1367.9 272.2,1368.8 273.7,1367.0 275.2,1365.3 276.7,1366.7 278.3,1369.7 279.8,1368.7 281.3,1367.9 282.8,1368.7 284.3,1367.7 285.8,1367.0 287.3,1367.2 288.8,1368.7 290.3,1370.0 291.8,1370.9 293.3,1369.3 294.8,1367.5 296.4,1367.3 297.9,1368.4 299.4,1368.1 300.9,1368.1 302.4,1369.0 303.9,1370.1 305.4,1367.6 306.9,1366.4 308.4,1367.9 309.9,1368.5 311.4,1369.0 312.9,1370.5 314.4,1371.1 316.0,1371.6 317.5,1371.9 319.0,1370.3 320.5,1370.3 322.0,1369.4 323.5,1368.1 325.0,1365.6 326.5,1367.4 328.0,1370.4 329.5,1371.1 331.0,1369.5 332.5,1368.9 334.1,1371.3 335.6,1371.4 337.1,1368.4 338.6,1369.2 340.1,1370.6 341.6,1369.8 343.1,1368.3 344.6,1369.5 346.1,1370.1 347.6,1370.3 349.1,1371.6 350.6,1371.7 352.1,1371.1 353.7,1371.5 355.2,1370.9 356.7,1371.9 358.2,1370.8 359.7,1371.0 361.2,1370.1 362.7,1371.1 364.2,1371.6 365.7,1370.6 367.2,1370.5 368.7,1369.3 370.2,1369.4 371.8,1370.5 373.3,1371.2 374.8,1371.9 376.3,1373.6 377.8,1375.4 379.3,1373.7 380.8,1371.5 382.3,1370.8 383.8,1370.8 385.3,1370.8 386.8,1371.2 388.3,1372.9 389.8,1371.6 391.4,1369.4 392.9,1369.7 394.4,1371.6 395.9,1371.4 397.4,1369.6 398.9,1368.7 400.4,1369.2 401.9,1370.5 403.4,1369.6 404.9,1368.6 406.4,1368.8 407.9,1367.2 409.5,1369.3 411.0,1372.8 412.5,1371.5 414.0,1367.9 415.5,1368.0 417.0,1369.7 418.5,1371.9 420.0,1372.9 421.5,1373.6 423.0,1373.1 424.5,1371.6 426.0,1369.4 427.5,1369.1 429.1,1368.9 430.6,1369.3 432.1,1371.8 433.6,1370.8 435.1,1368.8 436.6,1370.1 438.1,1370.0 439.6,1370.2 441.1,1368.6 442.6,1366.7 444.1,1365.5 445.6,1364.6 447.2,1363.9 448.7,1362.7 450.2,1361.9 451.7,1358.0 453.2,1353.7 455.0,1351.7 456.2,1350.0 457.7,1355.1 459.2,1361.9 460.7,1362.6 462.2,1364.8 463.7,1368.4 465.2,1369.5 466.8,1368.6 468.3,1368.8 469.8,1371.6 471.3,1372.1 472.8,1371.1 474.3,1371.4 475.8,1373.1 477.3,1373.7 478.8,1372.4 480.3,1371.9 481.8,1371.0 483.3,1369.5 484.9,1371.6 486.4,1370.7 487.9,1371.0 489.4,1372.3 490.9,1372.8 492.4,1374.8 493.9,1375.5 495.4,1373.8 496.9,1373.5 498.4,1373.9 499.9,1374.0 501.4,1372.6 502.9,1371.6 504.5,1371.6 506.0,1372.5 507.5,1372.8 509.0,1371.6 510.5,1372.3 512.0,1371.9 513.5,1370.3 515.0,1368.7 516.5,1370.1 518.0,1372.5 519.5,1372.7 521.0,1373.1 522.6,1370.8 524.1,1369.7 525.6,1370.8 527.1,1371.0 528.6,1372.8 530.1,1374.1 531.6,1373.4 533.1,1371.9 534.6,1371.2 536.1,1372.6 537.6,1373.0 539.1,1372.1 540.6,1371.5 542.2,1371.4 543.7,1372.2 545.2,1372.4 546.7,1372.4 548.2,1373.2 549.7,1373.7 551.2,1373.3 552.7,1372.7 554.2,1372.7 555.7,1373.6 557.2,1373.8 558.7,1374.6 560.3,1375.1 561.8,1375.3 563.3,1373.6 564.8,1372.9 566.3,1373.4 567.8,1373.4 569.3,1373.0 570.8,1373.3 572.3,1373.6 573.8,1372.3 575.3,1370.4 576.8,1371.5 578.3,1373.8 579.9,1372.6 581.4,1371.9 582.9,1371.9 584.4,1372.1 585.9,1373.1 587.4,1374.1 588.9,1373.1 590.4,1372.2 591.9,1372.7 593.4,1372.5 594.9,1371.7 596.4,1373.1 598.0,1372.1 599.5,1373.3 601.0,1375.4 602.5,1375.6 604.0,1375.4 605.5,1374.3 607.0,1374.3 608.5,1377.9 610.0,1379.7 611.5,1376.5 613.0,1374.1 614.5,1373.5 616.0,1373.3 617.6,1373.6 619.1,1374.0 620.6,1373.5 622.1,1373.8 623.6,1371.3 625.1,1369.5 626.6,1370.4 628.1,1371.3 629.6,1371.2 631.1,1371.0 632.6,1369.9 634.1,1368.9 635.7,1368.2 637.2,1366.9 638.7,1366.2 640.2,1365.0 641.7,1363.8 643.2,1363.7 644.7,1358.8 646.2,1355.4 647.7,1350.7 649.2,1341.4 650.7,1327.9 652.2,1310.6 653.7,1300.9 655.3,1309.0 656.8,1325.4 658.3,1337.7 659.8,1343.0 661.3,1344.6 662.8,1339.9 664.3,1328.6 665.8,1315.2 667.9,1310.1 668.8,1308.7 670.3,1321.2 671.8,1338.6 673.4,1351.3 674.9,1357.1 676.4,1358.9 677.9,1360.9 679.4,1363.0 680.9,1365.8 682.4,1367.7 683.9,1368.7 685.4,1370.1 686.9,1372.2 688.4,1372.0 689.9,1371.7 691.4,1373.0 693.0,1374.6 694.5,1373.8 696.0,1373.2 697.5,1372.8 699.0,1374.0 700.5,1373.0 702.0,1371.7 703.5,1373.0 705.0,1371.6 706.5,1371.7 708.0,1374.2 709.5,1375.1 711.1,1374.3 712.6,1373.6 714.1,1373.3 715.6,1373.2 717.1,1372.6 718.6,1373.1 720.1,1374.9 721.6,1375.2 723.1,1376.7 724.6,1377.4 726.1,1376.2 727.6,1374.1 729.1,1371.5 730.7,1370.7 732.2,1370.7 733.7,1371.5 735.2,1372.2 736.7,1371.3 738.2,1373.0 739.7,1374.2 741.2,1373.6 742.7,1371.3 744.2,1367.6 745.7,1368.9 747.2,1370.4 748.8,1369.9 750.3,1368.9 751.8,1367.5 753.3,1366.3 754.8,1365.9 756.3,1365.0 757.8,1361.5 759.3,1360.0 760.8,1359.0 762.3,1355.2 763.8,1350.1 765.3,1343.6 766.8,1337.2 768.4,1328.2 769.9,1313.1 771.4,1296.1 772.9,1272.1 774.4,1231.6 775.9,1167.3 777.4,1071.5 778.9,963.0 780.1,930.7 781.9,1002.5 783.4,1107.5 784.9,1190.0 786.5,1247.8 788.0,1285.4 789.5,1308.8 791.0,1323.4 792.5,1334.7 794.0,1344.2 795.5,1348.2 797.0,1351.3 798.5,1354.9 800.0,1358.2 801.5,1360.9 803.0,1362.8 804.5,1363.9 806.1,1366.6 807.6,1368.8 809.1,1369.3 810.6,1368.9 812.1,1369.9 813.6,1372.2 815.1,1372.6 816.6,1374.2 818.1,1373.5 819.6,1370.1 821.1,1371.3 822.6,1371.1 824.2,1370.0 825.7,1371.3 827.2,1371.7 828.7,1370.9 830.2,1369.8 831.7,1367.6 833.2,1366.3 834.7,1365.5 836.2,1360.6 837.7,1353.5 839.2,1348.6 840.4,1351.6 842.2,1350.2 843.8,1354.2 845.3,1359.0 846.8,1360.9 848.3,1362.2 849.8,1365.1 851.3,1368.9 852.8,1369.2 854.3,1366.3 855.8,1364.2 857.3,1362.8 858.8,1359.4 860.3,1357.0 861.9,1355.8 863.4,1352.7 864.9,1348.7 866.4,1343.6 867.9,1336.0 869.4,1324.0 870.9,1305.1 872.4,1279.0 873.9,1239.2 875.4,1179.0 876.9,1104.8 878.4,1068.0 879.9,1098.5 881.5,1172.3 883.0,1233.9 884.5,1277.2 886.0,1304.8 887.5,1322.0 889.0,1335.5 890.5,1344.0 892.0,1348.4 893.5,1352.8 895.0,1355.3 896.5,1356.2 898.0,1359.9 899.6,1364.0 901.1,1366.1 902.6,1367.0 904.1,1366.1 905.6,1366.4 907.1,1367.0 908.6,1367.9 910.1,1369.0 911.6,1370.7 913.1,1371.9 914.6,1371.8 916.1,1371.2 917.6,1371.4 919.2,1371.2 920.7,1372.7 922.2,1375.2 923.7,1375.5 925.2,1373.2 926.7,1371.3 928.2,1373.3 929.7,1375.6 931.2,1374.8 932.7,1373.3 934.2,1372.0 935.7,1370.2 937.3,1368.6 938.8,1368.4 940.3,1368.4 941.8,1369.6 943.3,1369.4 944.8,1366.4 946.3,1363.2 947.8,1360.9 949.3,1359.3 950.8,1355.9 952.3,1346.8 953.8,1332.7 955.3,1319.8 956.9,1303.4 958.4,1282.9 959.3,1275.9 961.4,1288.1 962.9,1299.8 964.4,1306.6 965.9,1308.2 967.4,1302.6 968.9,1304.7 970.4,1312.4 971.9,1324.5 973.4,1335.4 975.0,1345.2 976.5,1350.3 978.0,1353.4 979.5,1356.4 981.0,1358.4 982.5,1359.1 984.0,1360.1 985.5,1360.3 987.0,1356.7 988.5,1350.6 990.0,1343.7 991.5,1331.4 993.0,1318.6 995.2,1308.4 996.1,1311.3 997.6,1321.3 999.1,1336.4 1000.6,1347.8 1002.1,1355.0 1003.6,1357.9 1005.1,1358.1 1006.6,1360.3 1008.1,1362.5 1009.6,1361.1 1010.5,1362.1 1012.7,1362.0 1014.2,1364.3 1015.7,1367.5 1017.2,1369.2 1018.7,1369.8 1020.2,1369.9 1021.7,1370.4 1023.2,1372.6 1024.7,1374.1 1026.2,1373.1 1027.7,1371.6 1029.2,1372.2 1030.7,1372.3 1032.3,1371.1 1033.8,1370.0 1035.3,1370.8 1036.8,1371.7 1038.3,1371.2 1039.8,1370.8 1041.3,1371.4 1042.8,1371.3 1044.3,1371.3 1045.8,1373.1 1047.3,1373.8 1048.8,1372.7 1050.4,1371.8 1051.9,1374.0 1053.4,1373.6 1054.9,1371.1 1056.4,1372.1 1057.9,1374.4 1059.4,1373.1 1060.9,1369.3 1062.4,1369.4 1063.9,1370.2 1065.4,1371.0 1066.9,1372.5 1068.4,1373.8 1070.0,1373.0 1071.5,1371.6 1073.0,1370.7 1074.5,1371.7 1076.0,1371.4 1077.5,1370.5 1079.0,1370.0 1080.5,1367.8 1082.0,1365.1 1083.5,1365.1 1085.0,1366.4 1086.5,1364.1 1088.1,1361.3 1089.6,1357.8 1091.1,1348.9 1092.6,1342.5 1093.8,1342.2 1095.6,1343.5 1097.1,1350.1 1098.6,1355.7 1100.1,1358.7 1101.6,1359.9 1103.1,1364.9 1104.6,1368.6 1106.1,1369.4 1107.7,1368.5 1109.2,1367.9 1110.7,1366.1 1112.2,1366.0 1113.7,1369.3 1115.2,1368.4 1116.7,1366.2 1118.2,1364.4 1119.4,1363.4 1121.2,1363.7 1122.7,1368.4 1124.2,1370.8 1125.8,1372.4 1127.3,1372.3 1128.8,1372.6 1130.3,1371.2 1131.8,1370.2 1133.3,1370.0 1134.8,1370.4 1136.3,1369.2 1137.8,1367.5 1139.3,1367.7 1140.8,1368.6 1142.3,1367.1 1143.8,1366.0 1145.4,1365.3 1146.9,1365.5 1148.4,1365.0 1149.9,1364.1 1151.4,1360.5 1152.9,1354.6 1154.4,1345.8 1155.9,1335.2 1157.4,1322.3 1159.2,1317.1 1160.4,1321.1 1161.9,1328.7 1163.5,1333.8 1165.0,1337.7 1166.5,1337.9 1168.0,1337.9 1169.5,1340.2 1171.0,1338.8 1172.5,1341.8 1174.0,1346.2 1175.5,1346.4 1177.0,1343.6 1178.5,1342.1 1180.0,1346.5 1181.5,1351.5 1183.1,1357.9 1184.6,1363.5 1186.1,1365.5 1187.6,1367.2 1189.1,1367.8 1190.6,1368.0 1192.1,1368.6 1193.6,1368.0 1195.1,1367.7 1196.6,1365.8 1198.1,1366.4 1199.6,1368.6 1201.2,1370.6 1202.7,1371.2 1204.2,1369.9 1205.7,1369.7 1207.2,1369.8 1208.7,1371.3 1210.2,1373.5 1211.7,1374.6 1213.2,1373.6 1214.7,1371.7 1216.2,1369.7 1217.7,1369.9 1219.2,1369.7 1220.8,1370.5 1222.3,1371.9 1223.8,1370.8 1225.3,1369.3 1226.8,1368.8 1228.3,1369.8 1229.8,1371.3 1231.3,1372.3 1232.8,1371.3 1234.3,1372.6 1235.8,1373.2 1237.3,1370.0 1238.9,1367.7 1240.4,1369.9 1241.9,1372.6 1243.4,1371.8 1244.9,1371.9 1246.4,1372.6 1247.9,1370.3 1249.4,1368.4 1250.9,1370.4 1252.4,1370.0 1253.9,1370.8 1255.4,1371.3 1256.9,1369.8 1258.5,1368.2 1260.0,1369.1 1261.5,1366.9 1263.0,1363.4 1264.5,1363.8 1266.0,1364.6 1267.5,1363.9 1269.0,1360.0 1270.5,1357.5 1272.0,1358.0 1273.5,1356.4 1275.0,1349.9 1276.6,1342.2 1278.1,1337.5 1279.3,1337.1 1281.1,1340.4 1282.6,1345.6 1284.1,1350.0 1285.6,1356.7 1287.1,1360.9 1288.6,1362.3 1290.1,1364.1 1291.6,1362.7 1293.1,1361.6 1294.6,1360.7 1296.2,1356.5 1297.7,1353.1 1299.2,1346.5 1300.7,1342.5 1302.5,1339.2 1303.7,1341.3 1305.2,1344.4 1306.7,1349.1 1308.2,1355.9 1309.7,1361.6 1311.2,1364.7 1312.7,1367.2 1314.3,1368.2 1315.8,1369.4 1317.3,1370.7 1318.8,1372.2 1320.3,1371.2 1321.8,1371.7 1323.3,1372.0 1324.8,1371.2 1326.3,1373.6 1327.8,1374.2 1329.3,1373.8 1330.8,1374.0 1332.3,1374.0 1333.9,1373.2 1335.4,1372.7 1336.9,1371.7 1338.4,1372.4 1339.9,1373.6 1341.4,1373.8 1342.9,1374.2 1344.4,1372.5 1345.9,1371.9 1347.4,1372.5 1348.9,1373.6 1350.4,1376.1 1352.0,1375.2 1353.5,1372.0 1355.0,1373.2 1356.5,1373.7 1358.0,1373.3 1359.5,1373.1 1361.0,1374.2 1362.5,1374.7 1364.0,1374.4 1365.5,1372.1 1367.0,1370.9 1368.5,1371.0 1370.0,1370.7 1371.6,1372.3 1373.1,1374.5 1374.6,1374.0 1376.1,1374.5 1377.6,1376.5 1379.1,1376.3 1380.6,1373.5 1382.1,1371.9 1383.6,1371.5 1385.1,1371.3 1386.6,1372.3 1388.1,1371.8 1389.7,1370.8 1391.2,1369.9 1392.7,1369.0 1394.2,1367.9 1395.7,1364.7 1397.2,1362.0 1398.7,1358.9 1400.2,1357.0 1401.7,1360.2 1403.2,1356.7 1404.7,1356.6 1406.2,1356.1 1407.7,1350.9 1409.3,1342.3 1410.8,1330.7 1412.3,1316.0 1413.8,1301.8 1415.9,1288.4 1416.8,1295.8 1418.3,1308.0 1419.8,1320.0 1421.3,1331.6 1422.8,1342.6 1424.3,1349.3 1425.8,1353.6 1427.4,1356.4 1428.9,1356.3 1430.4,1353.8 1431.9,1349.1 1433.4,1342.7 1434.9,1335.6 1436.4,1323.0 1437.9,1304.4 1439.4,1280.3 1440.9,1257.0 1442.1,1248.4 1443.9,1262.7 1445.4,1288.1 1447.0,1307.9 1448.5,1316.0 1450.0,1318.0 1451.5,1316.9 1453.0,1312.6 1454.5,1309.8 1455.4,1310.2 1457.5,1323.0 1459.0,1334.6 1460.5,1344.1 1462.0,1351.9 1463.5,1357.2 1465.1,1359.6 1466.6,1360.4 1468.1,1358.5 1469.6,1356.9 1471.1,1354.9 1472.6,1349.5 1474.1,1344.0 1475.3,1343.4 1477.1,1344.9 1478.6,1352.2 1480.1,1358.6 1481.6,1363.7 1483.1,1366.2 1484.7,1368.6 1486.2,1370.3 1487.7,1370.3 1489.2,1371.8 1490.7,1372.1 1492.2,1372.1 1493.7,1373.9 1495.2,1375.3 1496.7,1373.7 1498.2,1372.8 1499.7,1372.4 1501.2,1371.1 1502.8,1370.9 1504.3,1372.4 1505.8,1374.6 1507.3,1375.5 1508.8,1373.5 1510.3,1372.7 1511.8,1373.4 1513.3,1373.8 1514.8,1375.0 1516.3,1374.8 1517.8,1374.1 1519.3,1373.8 1520.8,1372.7 1522.4,1371.2 1523.9,1371.5 1525.4,1373.1 1526.9,1374.6 1528.4,1375.6 1529.9,1377.1 1531.4,1376.8 1532.9,1375.4 1534.4,1373.8 1535.9,1371.9 1537.4,1369.2 1538.9,1366.8 1540.5,1367.9 1542.0,1371.3 1543.5,1371.3 1545.0,1367.9 1546.5,1366.9 1548.0,1367.4 1549.5,1364.8 1551.0,1361.9 1552.5,1355.3 1554.0,1348.0 1555.5,1342.8 1557.0,1335.1 1558.5,1329.4 1560.4,1326.6 1561.6,1327.4 1563.1,1332.4 1564.6,1340.4 1566.1,1347.0 1567.6,1351.5 1569.1,1357.1 1570.6,1361.8 1572.1,1365.9 1573.6,1367.2 1575.1,1367.1 1576.6,1367.1 1578.2,1367.5 1579.7,1367.6 1581.2,1365.8 1582.7,1365.1 1584.2,1363.5 1585.7,1361.3 1587.2,1361.4 1588.7,1359.1 1590.2,1354.7 1591.7,1350.8 1593.2,1344.7 1594.7,1338.0 1596.2,1330.3 1597.8,1321.9 1599.3,1310.5 1600.8,1302.6 1601.7,1302.6 1603.8,1308.5 1605.3,1318.1 1606.8,1328.6 1608.3,1336.3 1609.8,1341.4 1611.3,1342.1 1612.8,1338.0 1614.3,1334.1 1615.9,1333.7 1617.4,1331.7 1618.6,1332.2 1620.4,1340.2 1621.9,1348.5 1623.4,1354.3 1624.9,1358.7 1626.4,1362.2 1627.9,1363.8 1629.4,1365.2 1630.9,1365.9 1632.4,1368.1 1633.9,1366.6 1635.5,1367.2 1637.0,1366.3 1638.5,1366.9 1640.0,1366.5 1641.5,1367.9 1643.0,1368.7 1644.5,1368.6 1646.0,1365.6 1647.5,1360.5 1649.0,1359.2 1650.5,1355.4 1652.0,1347.6 1653.6,1343.4 1654.8,1344.2 1656.6,1344.5 1658.1,1346.3 1659.6,1350.4 1661.1,1356.0 1662.6,1361.2 1664.1,1365.3 1665.6,1366.1 1667.1,1365.5 1668.6,1362.3 1670.1,1359.2 1671.6,1357.3 1673.2,1354.2 1674.7,1350.8 1675.6,1350.9 1677.7,1354.0 1679.2,1357.6 1680.7,1358.5 1682.2,1356.5 1683.7,1354.0 1685.2,1355.7 1686.7,1359.1 1688.2,1358.8 1689.7,1356.6 1691.3,1356.2 1692.8,1359.7 1694.3,1362.8 1695.8,1364.2 1697.3,1367.2 1698.8,1369.2 1700.3,1372.2 1701.8,1373.7 1703.3,1374.6 1704.8,1373.2 1706.3,1373.5 1707.8,1373.4 1709.3,1373.9 1710.9,1372.6 1712.4,1370.7 1713.9,1372.4 1715.4,1373.2 1716.9,1371.3 1718.4,1369.4 1719.9,1367.7 1721.4,1366.2 1722.9,1362.7 1724.4,1359.4 1725.9,1357.1 1727.4,1352.4 1729.0,1347.8 1730.5,1342.9 1732.0,1334.6 1733.5,1324.2 1735.0,1315.7 1736.8,1315.9 1738.0,1315.4 1739.5,1320.8 1741.0,1328.1 1742.5,1335.3 1744.0,1344.5 1745.5,1350.5 1747.0,1355.3 1748.6,1359.4 1750.1,1362.5 1751.6,1363.9 1753.1,1365.6 1754.6,1366.9 1756.1,1369.9 1757.6,1370.5 1759.1,1371.1 1760.6,1370.4 1762.1,1369.3 1763.6,1370.4 1765.1,1369.1 1766.7,1367.7 1768.2,1368.1 1769.7,1367.8 1771.2,1365.3 1772.7,1366.1 1774.2,1364.5 1775.7,1358.3 1777.2,1354.1 1778.7,1350.5 1779.6,1350.2 1781.7,1350.4 1783.2,1353.3 1784.7,1355.5 1786.3,1355.9 1787.8,1356.7 1789.3,1358.3 1790.8,1360.2 1792.3,1359.5 1793.8,1358.0 1795.3,1357.1 1796.8,1353.2 1798.3,1351.3 1799.5,1350.9 1801.3,1354.9 1802.8,1356.1 1804.4,1357.8 1805.9,1360.6 1807.4,1362.8 1808.9,1363.3 1810.4,1364.6 1811.9,1364.5 1813.4,1362.7 1814.9,1360.9 1816.4,1359.2 1817.9,1353.3 1819.4,1345.7 1820.9,1340.4 1822.4,1338.3 1823.4,1338.4 1825.5,1341.5 1827.0,1346.8 1828.5,1350.8 1830.0,1354.5 1831.5,1360.2 1833.0,1365.3 1834.5,1367.5 1836.0,1366.2 1837.5,1366.6 1839.0,1369.5 1840.5,1369.7 1842.1,1371.1 1843.6,1372.8 1845.1,1373.0 1846.6,1372.9 1848.1,1371.5 1849.6,1372.2 1851.1,1373.1 1852.6,1371.8 1854.1,1370.9 1855.6,1372.1 1857.1,1371.9 1858.6,1371.9 1860.1,1370.9 1861.7,1369.1 1863.2,1368.7 1864.7,1367.8 1866.2,1365.4 1867.7,1360.2 1868.9,1362.1 1870.7,1363.6 1872.2,1365.3 1873.7,1367.5 1875.2,1367.0 1876.7,1368.2 1878.2,1370.1 1879.8,1371.0 1881.3,1370.9 1882.8,1369.5 1884.3,1369.5 1885.8,1372.2 1887.3,1374.2 1888.8,1373.5 1890.3,1372.1 1891.8,1371.1 1893.3,1369.2 1894.8,1366.7 1896.3,1366.3 1897.8,1365.3 1899.4,1366.2 1900.9,1362.9 1902.4,1362.1 1903.9,1359.8 1905.4,1357.6 1906.9,1354.2 1908.4,1350.0 1909.9,1347.3 1911.7,1344.7 1912.9,1347.6 1914.4,1353.1 1915.9,1358.7 1917.5,1362.5 1919.0,1364.8 1920.5,1367.3 1922.0,1370.4 1923.5,1369.8 1925.0,1370.6 1926.5,1373.6 1928.0,1375.0 1929.5,1374.2 1931.0,1374.7 1932.5,1374.8 1934.0,1376.2 1935.5,1377.8 1937.1,1377.6 1938.6,1376.6 1940.1,1376.8 1941.6,1377.2 1943.1,1375.7 1944.6,1374.1 1946.1,1373.0 1947.6,1373.1 1949.1,1375.2 1950.6,1375.1 1952.1,1375.8 1953.6,1373.7 1955.2,1371.7 1956.7,1373.2 1958.2,1375.2 1959.7,1376.5 1961.2,1376.4 1962.7,1375.0 1964.2,1374.1 1965.7,1374.6 1967.2,1374.1 1968.7,1374.2 1970.2,1375.9 1971.7,1378.3 1973.2,1379.0 1974.8,1375.8 1976.3,1373.5 1977.8,1372.8 1979.3,1373.2 1980.8,1374.9 1982.3,1376.3 1983.8,1376.9 1985.3,1378.5 1986.8,1377.9 1988.3,1374.7 1989.8,1373.4 1991.3,1374.2 1992.9,1374.8 1994.4,1373.7 1995.9,1373.2 1997.4,1374.9 1998.9,1376.6 2000.4,1375.2 2001.9,1372.6 2003.4,1371.7 2004.9,1370.5 2006.4,1368.1 2007.9,1368.6 2009.4,1369.1 2010.9,1371.4 2012.5,1370.3 2014.0,1370.4 2015.5,1371.0 2017.0,1372.6 2018.5,1376.6 2020.0,1376.2 2021.5,1376.6 2023.0,1378.4 2024.5,1377.7 2026.0,1377.4 2027.5,1375.5 2029.0,1373.1 2030.6,1374.7 2032.1,1377.5 2033.6,1376.8 2035.1,1375.4 2036.6,1373.8 2038.1,1374.4 2039.6,1375.7 2041.1,1377.1 2042.6,1376.2 2044.1,1374.9 2045.6,1376.0 2047.1,1375.3 2048.6,1375.6 2050.2,1376.0 2051.7,1376.8 2053.2,1375.8 2054.7,1372.2 2056.2,1371.5 2057.7,1372.9 2059.2,1373.0 2060.7,1372.3 2062.2,1372.6 2063.7,1372.7 2065.2,1372.0 2066.7,1370.9 2068.3,1369.7 2069.8,1367.7 2071.3,1363.6 2072.8,1359.9 2074.3,1359.1 2075.8,1358.2 2076.7,1354.6 2078.8,1360.8 2080.3,1362.3 2081.8,1363.2 2083.3,1363.7 2084.8,1363.4 2086.3,1365.0 2087.9,1366.2 2089.4,1367.7 2090.9,1370.6 2092.4,1369.3 2093.9,1368.2 2095.4,1367.6 2096.9,1367.4 2098.4,1367.2 2099.9,1366.1 2101.4,1365.6 2102.9,1367.3 2104.4,1366.9 2106.0,1366.3 2107.5,1368.9 2109.0,1370.9 2110.5,1371.7 2112.0,1373.5 2113.5,1374.2 2115.0,1373.3 2116.5,1372.2 2118.0,1373.8 2119.5,1375.7 2121.0,1376.9 2122.5,1375.8 2124.0,1375.8 2125.6,1376.0 2127.1,1376.0 2128.6,1376.1 2130.1,1374.8 2131.6,1373.5 2133.1,1375.2 2134.6,1376.7 2136.1,1376.0 2137.6,1373.9 2139.1,1374.9 2140.6,1378.0 2142.1,1379.0 2143.7,1377.9 2145.2,1375.6 2146.7,1373.4 2148.2,1374.2 2149.7,1375.2 2151.2,1376.3 2152.7,1376.0 2154.2,1375.5 2155.7,1376.7 2157.2,1375.4 2158.7,1373.1 2160.2,1372.6 2161.7,1371.5 2163.3,1371.0 2164.8,1372.4 2166.3,1373.0 2167.8,1374.0 2169.3,1374.5 2170.8,1373.4 2172.3,1369.0 2173.8,1366.2 2175.3,1366.8 2176.8,1367.7 2178.3,1365.1 2179.8,1366.0 2181.4,1369.0 2182.9,1369.8 2184.4,1369.1 2185.9,1367.5 2187.4,1367.2 2188.9,1366.7 2190.4,1365.0 2191.9,1365.3 2193.4,1364.5 2194.9,1361.1 2196.4,1360.7 2198.5,1356.6 2199.4,1358.7 2201.0,1359.8 2202.5,1360.0 2204.0,1362.3 2205.5,1366.0 2207.0,1367.9 2208.5,1368.3 2210.0,1370.3 2211.5,1371.3 2213.0,1370.5 2214.5,1373.3 2216.0,1375.2 2217.5,1373.7 2219.1,1373.0 2220.6,1374.7 2222.1,1374.7 2223.6,1374.3 2225.1,1375.2 2226.6,1374.2 2228.1,1371.7 2229.6,1371.5 2231.1,1370.6 2232.6,1370.2 2234.1,1369.1 2235.6,1370.2 2237.1,1369.4 2238.7,1371.2 2240.2,1372.4 2241.7,1372.4 2243.2,1372.5 2244.7,1373.9 2246.2,1374.1 2247.7,1374.3 2249.2,1375.4 2250.7,1374.0 2252.2,1373.0 2253.7,1373.9 2255.2,1372.1 2256.8,1369.9 2258.3,1370.9 2259.8,1372.9 2261.3,1374.0 2262.8,1373.9 2264.3,1371.2 2265.8,1370.2 2267.3,1368.2 2268.8,1369.9 2270.3,1374.6 2271.8,1374.1 2273.3,1371.1 2274.8,1370.2 2276.4,1370.6 2277.9,1370.9 2279.4,1372.0 2280.9,1371.1 2282.4,1369.3 2283.9,1369.5 2285.4,1370.2 2286.9,1371.8 2288.4,1371.4 2289.9,1370.0 2291.4,1369.0 2292.9,1368.9 2294.5,1371.7 2296.0,1372.3 2297.5,1370.6 2299.0,1369.3 2300.5,1367.6 2302.0,1367.0 2303.5,1366.8 2305.0,1366.9 2307.1,1365.9 2308.0,1367.6 2309.5,1365.0 2311.0,1364.9 2312.5,1369.4 2314.1,1372.3 2315.6,1370.7 2317.1,1369.8 2318.6,1370.4 2320.1,1372.0 2321.6,1370.7 2323.1,1369.8 2324.6,1369.8 2326.1,1369.5 2327.6,1368.8 2329.1,1371.4 2330.6,1372.9 2332.2,1371.4 2333.7,1370.6 2335.2,1370.3 2336.7,1370.3 2338.2,1370.4 2339.7,1372.4 2341.2,1371.0" fill="none" stroke="#ff0000" stroke-width="4.3" stroke-linejoin="round" stroke-linecap="butt" shape-rendering="crispEdges"/>
<polyline points="230.0,1515.0 231.5,1517.7 233.0,1516.9 234.5,1512.1 236.0,1510.1 237.5,1512.4 239.0,1517.3 240.6,1517.0 242.1,1516.0 243.6,1515.7 245.1,1514.1 246.6,1513.7 248.1,1513.8 249.6,1515.2 251.1,1515.0 252.6,1516.7 254.1,1518.1 255.6,1517.3 257.1,1516.5 258.7,1513.7 260.2,1513.3 261.7,1515.3 263.2,1514.9 264.7,1513.4 266.2,1515.4 267.7,1517.6 269.2,1516.3 270.7,1515.9 272.2,1516.2 273.7,1517.2 275.2,1518.2 276.7,1518.8 278.3,1519.2 279.8,1519.4 281.3,1518.7 282.8,1517.3 284.3,1514.0 285.8,1511.0 287.3,1513.4 288.8,1514.7 290.3,1514.2 291.8,1514.2 293.3,1515.9 294.8,1515.0 296.4,1516.7 297.9,1517.8 299.4,1519.1 300.9,1521.3 302.4,1523.2 303.9,1522.8 305.4,1522.0 306.9,1521.3 308.4,1519.1 309.9,1517.6 311.4,1517.3 312.9,1518.8 314.4,1519.9 316.0,1518.6 317.5,1517.4 319.0,1518.0 320.5,1520.2 322.0,1519.6 323.5,1518.9 325.0,1518.2 326.5,1517.1 328.0,1515.0 329.5,1516.3 331.0,1517.9 332.5,1520.4 334.1,1520.1 335.6,1517.5 337.1,1515.8 338.6,1516.1 340.1,1517.7 341.6,1518.5 343.1,1519.6 344.6,1516.9 346.1,1515.2 347.6,1514.5 349.1,1514.8 350.6,1516.9 352.1,1517.8 353.7,1519.5 355.2,1517.5 356.7,1514.1 358.2,1515.1 359.7,1518.2 361.2,1519.8 362.7,1517.9 364.2,1516.1 365.7,1515.9 367.2,1517.3 368.7,1515.3 370.2,1516.9 371.8,1518.5 373.3,1519.4 374.8,1520.5 376.3,1520.6 377.8,1517.9 379.3,1516.5 380.8,1519.3 382.3,1519.1 383.8,1519.4 385.3,1519.1 386.8,1519.5 388.3,1518.6 389.8,1518.1 391.4,1517.5 392.9,1514.2 394.4,1515.7 395.9,1518.1 397.4,1518.3 398.9,1516.0 400.4,1514.6 401.9,1516.3 403.4,1516.9 404.9,1518.8 406.4,1519.5 407.9,1520.0 409.5,1522.0 411.0,1520.8 412.5,1516.2 414.0,1515.6 415.5,1521.1 417.0,1522.9 418.5,1519.2 420.0,1517.6 421.5,1516.4 423.0,1518.7 424.5,1523.3 426.0,1521.4 427.5,1518.8 429.1,1517.3 430.6,1516.2 432.1,1519.1 433.6,1522.5 435.1,1521.4 436.6,1517.1 438.1,1515.7 439.6,1517.3 441.1,1516.9 442.6,1515.2 444.1,1514.4 445.6,1515.2 447.2,1513.6 448.7,1511.0 450.2,1508.6 451.7,1504.9 453.2,1499.2 454.7,1500.9 456.2,1496.2 457.7,1505.1 459.2,1513.0 460.7,1514.4 462.2,1512.7 463.7,1511.5 465.2,1512.7 466.8,1514.3 468.3,1516.0 469.8,1516.5 471.3,1516.8 472.8,1515.4 474.3,1515.5 475.8,1517.9 477.3,1515.0 478.8,1513.4 480.3,1514.4 481.8,1516.1 483.3,1518.1 484.9,1517.6 486.4,1516.5 487.9,1518.6 489.4,1520.6 490.9,1518.4 492.4,1516.8 493.9,1516.0 495.4,1516.2 496.9,1520.1 498.4,1518.8 499.9,1514.6 501.4,1512.5 502.9,1510.2 504.5,1511.9 506.0,1513.3 507.5,1513.1 509.0,1512.7 510.5,1513.4 512.0,1512.6 513.5,1513.4 515.0,1510.9 516.5,1508.3 518.0,1510.9 519.5,1513.2 521.0,1509.4 522.6,1508.7 524.1,1510.3 525.6,1509.4 527.1,1509.2 528.6,1509.9 530.1,1511.5 531.6,1511.9 533.1,1511.7 534.6,1510.1 536.1,1512.7 537.6,1513.3 539.1,1511.9 540.6,1510.8 542.2,1509.1 543.7,1509.5 545.2,1512.1 546.7,1510.1 548.2,1508.1 549.7,1509.8 551.2,1510.9 552.7,1510.7 554.2,1508.4 555.7,1506.3 557.2,1505.5 558.7,1506.7 560.3,1509.6 561.8,1510.9 563.3,1511.0 564.8,1509.9 566.3,1509.9 567.8,1511.9 569.3,1508.4 570.8,1505.6 572.3,1507.7 573.8,1507.5 575.3,1506.9 576.8,1507.2 578.3,1507.0 579.9,1505.2 581.4,1505.8 582.9,1507.9 584.4,1508.9 585.9,1506.4 587.4,1506.5 588.9,1509.2 590.4,1509.1 591.9,1507.3 593.4,1506.6 594.9,1508.1 596.4,1507.6 598.0,1507.0 599.5,1507.0 601.0,1507.5 602.5,1507.7 604.0,1504.6 605.5,1501.6 607.0,1503.6 608.5,1505.7 610.0,1505.6 611.5,1503.8 613.0,1503.4 614.5,1506.2 616.0,1506.1 617.6,1503.0 619.1,1503.1 620.6,1503.9 622.1,1504.9 623.6,1503.7 625.1,1503.2 626.6,1506.3 628.1,1506.2 629.6,1503.6 631.1,1501.5 632.6,1501.1 634.1,1501.4 635.7,1501.9 637.2,1505.2 638.7,1504.0 640.2,1503.0 641.7,1503.1 643.2,1504.0 644.7,1502.6 646.2,1498.6 647.7,1500.4 649.2,1501.1 650.7,1499.9 652.2,1493.7 653.7,1482.6 655.3,1473.4 657.1,1467.7 658.3,1473.8 659.8,1481.0 661.3,1486.9 662.8,1487.9 664.3,1485.7 665.8,1476.6 667.9,1468.4 668.8,1470.5 670.3,1481.3 671.8,1490.7 673.4,1495.7 674.9,1501.1 676.4,1506.9 677.9,1506.3 679.4,1503.9 680.9,1503.3 682.4,1503.7 683.9,1506.6 685.4,1507.0 686.9,1508.2 688.4,1509.1 689.9,1509.0 691.4,1509.2 693.0,1510.3 694.5,1511.1 696.0,1509.0 697.5,1505.9 699.0,1502.4 700.5,1502.5 702.0,1503.8 703.5,1506.7 705.0,1508.5 706.5,1507.3 708.0,1505.9 709.5,1508.6 711.1,1508.9 712.6,1506.6 714.1,1505.1 715.6,1506.9 717.1,1509.0 718.6,1509.0 720.1,1506.3 721.6,1505.3 723.1,1505.7 724.6,1507.1 726.1,1507.1 727.6,1506.5 729.1,1506.8 730.7,1509.2 732.2,1510.2 733.7,1508.0 735.2,1505.0 736.7,1506.7 738.2,1508.2 739.7,1507.7 741.2,1508.4 742.7,1509.4 744.2,1509.1 745.7,1509.6 747.2,1510.0 748.8,1508.2 750.3,1505.6 751.8,1504.1 753.3,1503.2 754.8,1502.6 756.3,1500.8 757.8,1498.7 759.3,1495.4 760.8,1492.9 762.3,1490.7 763.8,1485.5 765.3,1479.5 766.8,1474.1 768.4,1466.1 769.9,1454.4 771.4,1439.6 772.9,1413.9 774.4,1383.6 775.9,1352.9 777.4,1317.6 779.2,1293.4 780.4,1307.2 781.9,1333.7 783.4,1367.5 784.9,1400.2 786.5,1426.2 788.0,1447.3 789.5,1461.2 791.0,1472.8 792.5,1481.7 794.0,1482.1 795.5,1483.6 797.0,1488.9 798.5,1495.1 800.0,1498.5 801.5,1498.0 803.0,1498.8 804.5,1498.1 806.1,1497.4 807.6,1495.6 809.1,1497.7 810.6,1503.2 812.1,1505.9 813.6,1505.7 815.1,1502.3 816.6,1497.6 818.1,1498.3 819.6,1499.9 821.1,1502.3 822.6,1504.3 824.2,1507.1 825.7,1509.0 827.2,1508.2 828.7,1507.4 830.2,1507.5 831.7,1505.9 833.2,1505.5 834.7,1504.3 836.2,1505.4 837.7,1506.8 839.2,1505.4 840.7,1503.5 842.2,1504.8 843.8,1507.1 845.3,1508.9 846.8,1510.3 848.3,1507.4 849.8,1503.3 851.3,1499.5 852.8,1499.0 854.3,1500.1 855.8,1502.6 857.3,1499.7 858.8,1496.1 860.3,1496.2 861.9,1495.9 863.4,1494.7 864.9,1491.7 866.4,1487.0 867.9,1479.9 869.4,1469.9 870.9,1454.7 872.4,1439.5 873.9,1424.0 875.4,1403.9 876.9,1386.3 878.4,1381.7 879.9,1390.2 881.5,1406.6 883.0,1428.6 884.5,1446.4 886.0,1458.6 887.5,1472.4 889.0,1482.2 890.5,1488.7 892.0,1492.1 893.5,1494.1 895.0,1499.5 896.5,1503.2 898.0,1503.6 899.6,1501.8 901.1,1502.6 902.6,1502.0 904.1,1503.1 905.6,1506.4 907.1,1506.2 908.6,1506.9 910.1,1507.8 911.6,1508.7 913.1,1508.1 914.6,1509.0 916.1,1507.6 917.6,1503.5 919.2,1504.9 920.7,1507.5 922.2,1511.6 923.7,1512.0 925.2,1511.0 926.7,1511.3 928.2,1510.3 929.7,1510.0 931.2,1513.4 932.7,1515.0 934.2,1513.7 935.7,1512.1 937.3,1509.6 938.8,1508.6 940.3,1509.0 941.8,1507.2 943.3,1506.2 944.8,1504.8 946.3,1503.4 947.8,1503.6 949.3,1501.5 950.8,1499.0 952.3,1495.9 953.8,1486.2 955.3,1476.2 956.9,1471.0 958.1,1470.9 959.9,1477.4 961.4,1480.3 962.9,1481.2 964.4,1483.1 965.9,1487.9 967.4,1491.2 968.9,1488.5 970.4,1487.2 971.9,1488.5 973.4,1491.8 975.0,1496.8 976.5,1502.6 978.0,1505.5 979.5,1505.1 981.0,1504.1 982.5,1504.9 984.0,1503.1 985.5,1499.1 987.0,1495.1 988.5,1491.4 990.0,1485.9 991.5,1477.6 992.4,1479.7 994.6,1483.5 996.1,1494.6 997.6,1498.4 999.1,1504.1 1000.6,1507.5 1002.1,1508.8 1003.6,1509.5 1005.1,1506.8 1006.6,1506.4 1008.1,1507.1 1009.6,1510.4 1011.1,1514.2 1012.7,1516.9 1014.2,1514.6 1015.7,1515.3 1017.2,1516.6 1018.7,1515.0 1020.2,1515.2 1021.7,1515.9 1023.2,1514.0 1024.7,1514.5 1026.2,1513.6 1027.7,1513.8 1029.2,1515.4 1030.7,1516.5 1032.3,1512.5 1033.8,1509.8 1035.3,1511.3 1036.8,1512.6 1038.3,1515.1 1039.8,1516.9 1041.3,1515.5 1042.8,1511.9 1044.3,1511.5 1045.8,1513.6 1047.3,1512.1 1048.8,1512.6 1050.4,1516.3 1051.9,1515.8 1053.4,1515.6 1054.9,1515.9 1056.4,1515.6 1057.9,1515.5 1059.4,1515.1 1060.9,1514.0 1062.4,1514.0 1063.9,1514.2 1065.4,1515.5 1066.9,1515.2 1068.4,1514.9 1070.0,1516.0 1071.5,1517.4 1073.0,1517.2 1074.5,1515.5 1076.0,1514.6 1077.5,1514.7 1079.0,1511.7 1080.5,1511.3 1082.0,1512.7 1083.5,1510.1 1085.0,1509.4 1086.5,1508.3 1088.1,1505.8 1089.6,1503.9 1090.5,1505.1 1092.6,1502.4 1094.1,1502.1 1095.6,1503.6 1097.1,1508.7 1098.6,1511.4 1100.1,1509.9 1101.6,1512.0 1103.1,1514.4 1104.6,1516.2 1106.1,1516.5 1107.7,1515.1 1109.2,1513.2 1110.7,1513.4 1112.2,1512.9 1113.7,1512.4 1115.2,1513.7 1116.7,1514.2 1118.2,1516.0 1119.7,1515.2 1121.2,1513.7 1122.7,1515.9 1124.2,1515.7 1125.8,1512.8 1127.3,1509.4 1128.8,1510.4 1130.3,1511.4 1131.8,1511.1 1133.3,1510.5 1134.8,1511.8 1136.3,1514.6 1137.8,1511.8 1139.3,1508.4 1140.8,1509.2 1142.3,1510.4 1143.8,1511.0 1145.4,1511.1 1146.9,1509.9 1148.4,1507.5 1149.9,1507.5 1151.4,1506.5 1152.9,1496.8 1154.4,1494.6 1155.9,1494.7 1157.4,1495.1 1158.9,1493.5 1160.4,1493.6 1162.5,1495.6 1163.5,1497.5 1165.0,1504.4 1166.5,1508.6 1168.0,1508.3 1169.5,1508.3 1171.0,1509.8 1172.5,1505.1 1174.0,1505.1 1175.5,1504.0 1177.0,1507.6 1178.5,1510.9 1180.0,1512.8 1181.5,1513.3 1183.1,1514.2 1184.6,1514.0 1186.1,1514.0 1187.6,1514.0 1189.1,1516.1 1190.6,1516.2 1192.1,1514.6 1193.6,1514.1 1195.1,1515.0 1196.6,1519.4 1198.1,1521.2 1199.6,1519.5 1201.2,1519.4 1202.7,1517.9 1204.2,1515.5 1205.7,1514.2 1207.2,1514.9 1208.7,1514.0 1210.2,1515.0 1211.7,1515.8 1213.2,1513.9 1214.7,1512.6 1216.2,1513.8 1217.7,1515.8 1219.2,1516.6 1220.8,1518.5 1222.3,1519.2 1223.8,1516.9 1225.3,1517.4 1226.8,1516.8 1228.3,1514.8 1229.8,1513.6 1231.3,1513.3 1232.8,1513.4 1234.3,1510.9 1235.8,1509.7 1237.3,1512.2 1238.9,1514.5 1240.4,1514.3 1241.9,1513.7 1243.4,1515.0 1244.9,1516.1 1246.4,1514.6 1247.9,1515.1 1249.4,1514.8 1250.9,1514.1 1252.4,1515.8 1253.9,1516.8 1255.4,1518.4 1256.9,1515.9 1258.5,1516.3 1260.0,1519.5 1261.5,1517.8 1263.0,1512.8 1264.5,1509.7 1266.0,1511.6 1267.5,1510.1 1269.0,1509.8 1270.5,1508.5 1272.0,1506.0 1273.5,1502.8 1275.0,1500.1 1276.6,1500.9 1278.1,1499.9 1279.6,1500.7 1281.1,1504.0 1282.6,1507.1 1284.1,1507.3 1285.6,1511.2 1287.1,1514.9 1288.6,1517.1 1290.1,1513.9 1291.6,1510.3 1293.1,1507.1 1294.6,1503.3 1296.2,1503.7 1298.0,1504.2 1299.2,1506.9 1300.7,1507.1 1302.2,1507.5 1303.7,1507.8 1305.2,1509.7 1306.7,1512.5 1308.2,1515.6 1309.7,1516.7 1311.2,1513.9 1312.7,1511.2 1314.3,1512.8 1315.8,1517.5 1317.3,1518.9 1318.8,1518.1 1320.3,1517.6 1321.8,1517.6 1323.3,1518.3 1324.8,1519.5 1326.3,1517.9 1327.8,1515.7 1329.3,1514.6 1330.8,1514.7 1332.3,1517.2 1333.9,1516.8 1335.4,1515.9 1336.9,1515.1 1338.4,1516.4 1339.9,1518.5 1341.4,1518.7 1342.9,1519.2 1344.4,1520.2 1345.9,1518.8 1347.4,1517.1 1348.9,1517.2 1350.4,1516.5 1352.0,1518.2 1353.5,1518.6 1355.0,1518.4 1356.5,1517.5 1358.0,1515.6 1359.5,1515.3 1361.0,1517.8 1362.5,1516.0 1364.0,1514.8 1365.5,1516.3 1367.0,1516.4 1368.5,1515.1 1370.0,1515.3 1371.6,1518.0 1373.1,1519.3 1374.6,1517.3 1376.1,1516.6 1377.6,1517.0 1379.1,1514.4 1380.6,1511.8 1382.1,1511.8 1383.6,1513.2 1385.1,1512.8 1386.6,1511.5 1388.1,1513.8 1389.7,1514.2 1391.2,1512.8 1392.7,1515.2 1394.2,1517.3 1395.7,1511.4 1397.2,1505.7 1398.7,1504.1 1400.2,1507.2 1401.7,1503.1 1403.2,1503.2 1404.7,1502.3 1406.2,1500.1 1407.7,1498.4 1409.3,1494.4 1410.8,1488.7 1412.3,1488.4 1413.8,1492.9 1415.3,1499.9 1416.8,1501.2 1418.3,1502.8 1419.8,1506.3 1421.3,1508.4 1422.8,1506.8 1424.3,1508.6 1425.8,1508.3 1427.4,1509.6 1428.9,1507.0 1430.4,1500.5 1431.9,1491.1 1433.4,1479.7 1434.9,1470.1 1436.4,1465.9 1437.3,1466.7 1439.4,1471.4 1440.9,1477.6 1442.4,1486.3 1443.9,1490.9 1445.4,1491.4 1447.0,1488.1 1449.1,1490.2 1450.0,1488.0 1451.5,1494.7 1453.0,1503.1 1454.5,1507.2 1456.0,1508.7 1457.5,1508.2 1459.0,1507.7 1460.5,1507.4 1462.0,1508.1 1463.5,1509.1 1465.1,1508.1 1466.6,1509.8 1468.1,1513.4 1469.6,1515.8 1471.1,1515.8 1472.6,1517.1 1474.1,1517.6 1475.6,1518.1 1477.1,1518.3 1478.6,1517.2 1480.1,1515.2 1481.6,1512.9 1483.1,1514.1 1484.7,1518.1 1486.2,1521.4 1487.7,1519.4 1489.2,1517.0 1490.7,1518.9 1492.2,1520.0 1493.7,1518.1 1495.2,1518.8 1496.7,1518.6 1498.2,1516.3 1499.7,1515.1 1501.2,1515.3 1502.8,1518.5 1504.3,1519.9 1505.8,1518.7 1507.3,1519.0 1508.8,1518.5 1510.3,1517.6 1511.8,1516.8 1513.3,1516.7 1514.8,1517.3 1516.3,1518.7 1517.8,1519.3 1519.3,1519.4 1520.8,1519.2 1522.4,1517.1 1523.9,1516.7 1525.4,1516.9 1526.9,1518.6 1528.4,1518.1 1529.9,1515.8 1531.4,1518.1 1532.9,1519.5 1534.4,1516.5 1535.9,1514.6 1537.4,1517.7 1538.9,1516.1 1540.5,1516.0 1542.0,1517.2 1543.5,1514.1 1545.0,1512.9 1546.5,1513.8 1548.0,1511.9 1549.5,1508.9 1551.0,1505.6 1552.5,1503.5 1554.0,1501.6 1554.9,1502.2 1557.0,1498.4 1558.5,1501.6 1560.1,1505.5 1561.6,1510.0 1563.1,1510.7 1564.6,1510.4 1566.1,1511.0 1567.6,1513.6 1569.1,1513.6 1570.6,1512.8 1572.1,1512.8 1573.6,1512.4 1575.1,1512.5 1576.6,1514.7 1578.2,1517.2 1579.7,1516.4 1581.2,1512.1 1582.7,1513.9 1584.2,1517.5 1585.7,1514.0 1587.2,1509.5 1588.7,1508.1 1590.2,1506.5 1591.7,1505.9 1593.2,1502.9 1594.7,1498.8 1596.2,1497.4 1597.5,1494.6 1599.3,1499.0 1600.8,1500.7 1602.3,1502.0 1603.8,1505.2 1605.3,1510.1 1606.8,1509.3 1608.3,1506.8 1609.8,1507.8 1611.3,1510.7 1612.8,1507.5 1614.3,1504.6 1615.9,1506.0 1617.4,1507.9 1618.9,1509.2 1620.4,1511.4 1621.9,1515.9 1623.4,1517.7 1624.9,1513.6 1626.4,1512.7 1627.9,1513.3 1629.4,1513.2 1630.9,1512.6 1632.4,1513.4 1633.9,1515.7 1635.5,1516.3 1637.0,1512.7 1638.5,1514.0 1640.0,1515.6 1641.5,1514.8 1643.0,1516.4 1644.5,1515.7 1646.0,1513.9 1647.5,1513.7 1649.6,1508.4 1650.5,1510.2 1652.0,1507.6 1653.6,1509.1 1655.1,1508.8 1656.6,1508.4 1658.1,1511.2 1659.6,1513.1 1661.1,1513.0 1662.6,1514.7 1664.1,1515.1 1665.6,1512.1 1667.1,1510.3 1668.6,1510.3 1670.1,1510.5 1671.6,1509.1 1673.2,1505.8 1674.7,1508.2 1676.2,1509.4 1677.7,1511.4 1679.2,1515.8 1680.7,1514.6 1682.2,1514.1 1683.7,1516.7 1685.2,1515.1 1686.7,1512.9 1688.2,1513.2 1689.7,1512.2 1691.3,1509.3 1692.8,1509.4 1694.3,1510.7 1695.8,1512.2 1697.3,1513.2 1698.8,1511.9 1700.3,1511.9 1701.8,1513.8 1703.3,1513.2 1704.8,1510.7 1706.3,1511.8 1707.8,1515.3 1709.3,1517.5 1710.9,1515.7 1712.4,1514.4 1713.9,1513.6 1715.4,1511.8 1716.9,1510.7 1718.4,1514.0 1719.9,1514.4 1721.4,1511.9 1722.9,1507.0 1724.4,1504.9 1725.9,1503.6 1727.4,1499.5 1729.0,1496.9 1730.5,1496.5 1731.4,1493.4 1733.5,1494.6 1735.0,1497.2 1736.5,1498.9 1738.0,1503.9 1739.5,1507.8 1741.0,1506.3 1742.5,1506.3 1744.0,1505.1 1745.5,1506.3 1747.0,1507.7 1748.6,1510.3 1750.1,1513.0 1751.6,1515.3 1753.1,1513.4 1754.6,1511.9 1756.1,1512.2 1757.6,1516.6 1759.1,1517.9 1760.6,1516.4 1762.1,1514.6 1763.6,1515.3 1765.1,1514.8 1766.7,1512.7 1768.2,1512.5 1769.7,1508.6 1771.2,1508.1 1772.7,1510.0 1774.2,1510.6 1775.7,1511.8 1777.2,1514.5 1778.7,1515.0 1780.2,1513.6 1781.7,1514.9 1783.2,1516.6 1784.7,1518.0 1786.3,1518.5 1787.8,1515.1 1789.3,1512.3 1790.8,1512.0 1792.3,1513.4 1793.8,1511.0 1795.3,1508.3 1796.8,1505.1 1798.3,1503.4 1800.4,1505.9 1801.3,1505.9 1802.8,1505.1 1804.4,1507.8 1805.9,1508.9 1807.4,1507.8 1808.9,1507.7 1810.4,1506.9 1811.9,1503.4 1813.4,1500.7 1814.9,1503.2 1816.4,1501.1 1817.9,1503.2 1819.4,1506.8 1820.9,1510.3 1822.4,1510.4 1824.0,1509.6 1825.5,1511.4 1827.0,1512.8 1828.5,1513.8 1830.0,1514.9 1831.5,1517.3 1833.0,1515.9 1834.5,1514.6 1836.0,1513.6 1837.5,1514.0 1839.0,1516.4 1840.5,1517.6 1842.1,1517.4 1843.6,1514.3 1845.1,1516.4 1846.6,1515.1 1848.1,1514.0 1849.6,1513.8 1851.1,1515.5 1852.6,1514.8 1854.1,1513.1 1855.6,1512.6 1857.1,1514.4 1858.6,1514.7 1860.1,1513.1 1861.7,1512.2 1863.2,1513.6 1864.7,1511.8 1866.2,1509.7 1867.7,1509.3 1869.2,1513.5 1870.7,1515.5 1872.2,1516.5 1873.7,1516.6 1875.2,1518.9 1876.7,1519.6 1878.2,1516.3 1879.8,1513.4 1881.3,1514.4 1882.8,1519.0 1884.3,1518.7 1885.8,1517.9 1887.3,1517.2 1888.8,1514.5 1890.3,1514.6 1891.8,1517.2 1893.3,1516.5 1894.8,1517.2 1896.3,1517.3 1897.8,1515.5 1899.4,1516.1 1900.9,1518.9 1902.4,1515.6 1903.9,1509.2 1905.4,1507.1 1907.5,1505.2 1908.4,1511.7 1909.9,1511.2 1911.4,1508.9 1912.9,1509.6 1914.4,1513.2 1915.9,1516.6 1917.5,1517.6 1919.0,1518.1 1920.5,1517.8 1922.0,1518.4 1923.5,1516.8 1925.0,1514.5 1926.5,1514.9 1928.0,1516.5 1929.5,1519.5 1931.0,1518.8 1932.5,1518.3 1934.0,1518.8 1935.5,1518.6 1937.1,1519.9 1938.6,1520.4 1940.1,1517.9 1941.6,1518.1 1943.1,1518.2 1944.6,1517.4 1946.1,1520.1 1947.6,1518.6 1949.1,1516.7 1950.6,1518.0 1952.1,1519.6 1953.6,1520.1 1955.2,1519.9 1956.7,1519.3 1958.2,1520.6 1959.7,1520.6 1961.2,1519.5 1962.7,1520.5 1964.2,1520.8 1965.7,1520.4 1967.2,1518.5 1968.7,1520.8 1970.2,1522.1 1971.7,1522.3 1973.2,1522.6 1974.8,1522.8 1976.3,1522.7 1977.8,1519.7 1979.3,1518.0 1980.8,1517.5 1982.3,1518.3 1983.8,1518.8 1985.3,1519.1 1986.8,1520.0 1988.3,1517.5 1989.8,1517.5 1991.3,1520.1 1992.9,1519.6 1994.4,1519.5 1995.9,1520.0 1997.4,1521.1 1998.9,1519.0 2000.4,1514.5 2001.9,1512.4 2003.4,1514.0 2004.9,1514.5 2006.4,1513.1 2007.9,1513.2 2009.4,1515.9 2010.9,1521.1 2012.5,1519.3 2014.0,1518.1 2015.5,1517.8 2017.0,1516.9 2018.5,1513.7 2020.0,1512.8 2021.5,1517.3 2023.0,1519.9 2024.5,1520.2 2026.0,1521.2 2027.5,1520.5 2029.0,1517.6 2030.6,1515.1 2032.1,1515.0 2033.6,1516.7 2035.1,1518.6 2036.6,1519.1 2038.1,1519.5 2039.6,1522.6 2041.1,1523.6 2042.6,1520.7 2044.1,1518.7 2045.6,1518.6 2047.1,1522.3 2048.6,1523.5 2050.2,1519.7 2051.7,1516.7 2053.2,1518.1 2054.7,1519.2 2056.2,1519.3 2057.7,1518.1 2059.2,1516.1 2060.7,1515.4 2062.2,1514.7 2063.7,1514.0 2065.2,1514.9 2066.7,1514.7 2068.3,1511.9 2069.8,1511.9 2071.3,1511.8 2073.4,1511.4 2074.3,1510.9 2075.8,1513.8 2077.3,1513.8 2078.8,1512.9 2080.3,1514.8 2081.8,1516.5 2083.3,1517.3 2084.8,1518.9 2086.3,1519.3 2087.9,1518.4 2089.4,1518.2 2090.9,1520.1 2092.4,1518.5 2093.9,1518.1 2095.4,1520.0 2096.9,1518.4 2098.4,1516.7 2099.9,1518.0 2101.4,1516.9 2102.9,1516.6 2104.4,1518.2 2106.0,1519.3 2107.5,1519.2 2109.0,1517.6 2110.5,1517.7 2112.0,1519.2 2113.5,1520.2 2115.0,1520.2 2116.5,1520.7 2118.0,1519.5 2119.5,1520.0 2121.0,1520.1 2122.5,1520.3 2124.0,1521.4 2125.6,1522.1 2127.1,1520.4 2128.6,1517.5 2130.1,1515.3 2131.6,1514.8 2133.1,1516.4 2134.6,1516.0 2136.1,1517.4 2137.6,1520.1 2139.1,1517.8 2140.6,1516.2 2142.1,1518.6 2143.7,1519.3 2145.2,1518.0 2146.7,1516.7 2148.2,1516.8 2149.7,1517.3 2151.2,1517.7 2152.7,1517.6 2154.2,1518.3 2155.7,1519.7 2157.2,1518.6 2158.7,1517.3 2160.2,1517.1 2161.7,1515.7 2163.3,1514.1 2164.8,1517.1 2166.3,1519.7 2167.8,1517.6 2169.3,1515.6 2170.8,1516.4 2172.3,1517.8 2173.8,1519.0 2175.3,1517.4 2176.8,1516.9 2178.3,1517.5 2179.8,1515.3 2181.4,1513.9 2182.9,1514.9 2184.4,1516.1 2185.9,1514.9 2187.4,1514.0 2188.9,1513.2 2190.4,1512.4 2191.9,1513.4 2193.4,1515.1 2194.9,1514.3 2196.4,1513.0 2197.9,1516.0 2199.4,1517.6 2201.0,1516.3 2202.5,1515.2 2204.0,1513.1 2205.5,1515.0 2207.0,1516.2 2208.5,1517.6 2210.0,1518.5 2211.5,1517.0 2213.0,1517.2 2214.5,1519.3 2216.0,1521.1 2217.5,1523.1 2219.1,1522.7 2220.6,1519.0 2222.1,1521.6 2223.6,1522.5 2225.1,1519.8 2226.6,1518.9 2228.1,1521.3 2229.6,1522.1 2231.1,1522.3 2232.6,1523.9 2234.1,1519.0 2235.6,1514.9 2237.1,1514.4 2238.7,1517.0 2240.2,1520.7 2241.7,1523.0 2243.2,1520.4 2244.7,1518.1 2246.2,1516.8 2247.7,1517.4 2249.2,1519.2 2250.7,1518.8 2252.2,1519.1 2253.7,1520.2 2255.2,1520.7 2256.8,1520.0 2258.3,1519.8 2259.8,1521.5 2261.3,1522.6 2262.8,1521.8 2264.3,1516.6 2265.8,1514.9 2267.3,1517.4 2268.8,1517.0 2270.3,1515.6 2271.8,1515.3 2273.3,1516.4 2274.8,1519.3 2276.4,1522.0 2277.9,1521.6 2279.4,1519.2 2280.9,1519.3 2282.4,1518.5 2283.9,1517.1 2285.4,1519.0 2286.9,1521.4 2288.4,1520.1 2289.9,1520.7 2291.4,1524.4 2292.9,1525.1 2294.5,1523.6 2296.0,1521.7 2297.5,1521.8 2299.0,1522.1 2300.5,1522.3 2302.0,1521.9 2303.5,1519.3 2305.0,1518.0 2306.5,1522.0 2308.0,1524.1 2309.5,1523.8 2311.0,1525.0 2312.5,1522.5 2314.1,1518.6 2315.6,1517.8 2317.1,1519.8 2318.6,1520.5 2320.1,1521.7 2321.6,1522.2 2323.1,1521.8 2324.6,1522.3 2326.1,1522.1 2327.6,1519.2 2329.1,1517.7 2330.6,1518.2 2332.2,1518.5 2333.7,1516.2 2335.2,1518.2 2336.7,1519.8 2338.2,1518.4 2339.7,1517.2 2341.2,1519.5" fill="none" stroke="#000000" stroke-width="4.3" stroke-linejoin="round" stroke-linecap="butt" shape-rendering="crispEdges"/>
<g filter="url(#bin)">
<text transform="translate(1874.1,656.0) scale(1,1.03)" font-size="77.5" fill="#ff00ff" xml:space="preserve">CT = 550 <tspan font-size="44.5" dx="1.5" dy="-41">o</tspan><tspan dx="0.5" dy="41">C</tspan></text>
<text transform="translate(1876.8,985.0) scale(1,1.03)" font-size="77.5" fill="#0000ff" xml:space="preserve">CT = 450 <tspan font-size="44.5" dx="1.5" dy="-41">o</tspan><tspan dx="0.5" dy="41">C</tspan></text>
<text transform="translate(1881.1,1336.2) scale(1,1.03)" font-size="77.5" fill="#ff0000" xml:space="preserve">CT = 350 <tspan font-size="44.5" dx="1.5" dy="-41">o</tspan><tspan dx="0.5" dy="41">C</tspan></text>
<text transform="translate(1882.6,1494.5) scale(1,1.03)" font-size="77.5" fill="#000000" xml:space="preserve">CT = 250 <tspan font-size="44.5" dx="1.5" dy="-41">o</tspan><tspan dx="0.5" dy="41">C</tspan></text>
<ellipse cx="1884.4" cy="151.4" rx="12.6" ry="14.5" fill="#000"/>
<text transform="translate(1930.7,186) scale(1,1.03)" font-size="78" fill="#000">Ru</text>
<text transform="translate(1872.9,296.9) scale(0.978,1.0515)" font-size="48" font-weight="bold" fill="#000" stroke="#000" stroke-width="1.2" stroke-linejoin="round">#</text>
<text transform="translate(1935.2,299.1) scale(1,1.03)" font-size="78" fill="#000">Co<tspan font-size="46.5" dy="29.2">3</tspan><tspan dy="-29.2">O</tspan><tspan font-size="46.5" dx="-1.5" dy="29.2">4</tspan></text>
<text transform="translate(1870.9,433.2) scale(1.04,1.004)" font-size="73" fill="#000" stroke="#000" stroke-width="1.2" stroke-linejoin="round">*</text>
<text transform="translate(1930,434.4) scale(1,1.03)" font-size="77.7" fill="#000">CoO</text>
<text transform="translate(1042,684.8) scale(0.963,1.0515)" font-size="48" font-weight="bold" fill="#000" stroke="#000" stroke-width="1.2" stroke-linejoin="round">#</text>
<ellipse cx="1098.5" cy="660.0" rx="12.5" ry="14.2" fill="#000"/>
<text transform="translate(1115.1,719.8) scale(1.03,0.996)" font-size="73" fill="#000" stroke="#000" stroke-width="1.2" stroke-linejoin="round">*</text>
<ellipse cx="1279.5" cy="644.4" rx="12.5" ry="14.5" fill="#000"/>
</g>
</svg>
</body></html>
